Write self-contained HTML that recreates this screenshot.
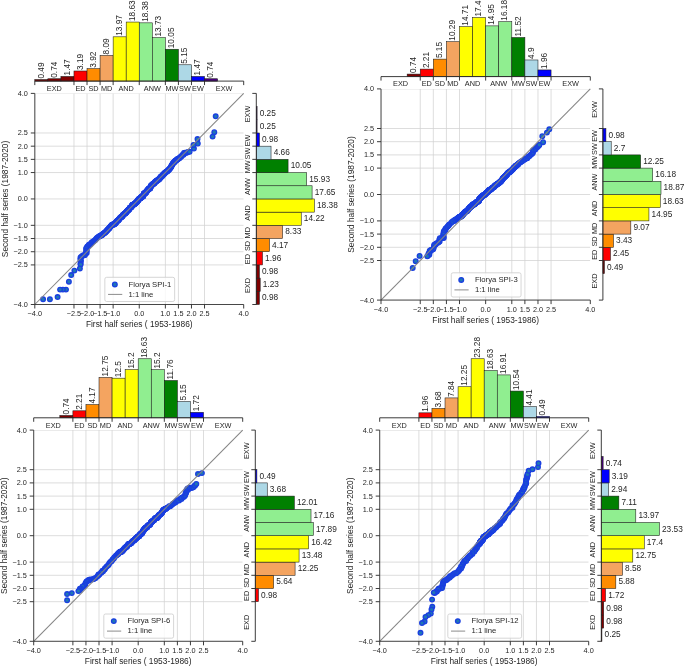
<!DOCTYPE html>
<html><head><meta charset="utf-8"><title>Florya SPI first half vs second half series</title>
<style>html,body{margin:0;padding:0;background:#fff}svg{display:block}</style></head>
<body>
<svg width="685" height="666" viewBox="0 0 685 666" font-family="Liberation Sans, Arial, sans-serif" fill="#262626">
<rect width="685" height="666" fill="#fff"/>
<g id="p0">
<clipPath id="c0"><rect x="34.8" y="93.4" width="208.9" height="211.1"/></clipPath>
<path d="M34.8 93.4V304.5M34.8 304.5H243.7M73.97 93.4V304.5M34.8 264.92H243.7M87.03 93.4V304.5M34.8 251.72H243.7M100.08 93.4V304.5M34.8 238.53H243.7M113.14 93.4V304.5M34.8 225.34H243.7M139.25 93.4V304.5M34.8 198.95H243.7M165.36 93.4V304.5M34.8 172.56H243.7M178.42 93.4V304.5M34.8 159.37H243.7M191.48 93.4V304.5M34.8 146.18H243.7M204.53 93.4V304.5M34.8 132.98H243.7M34.8 93.4H243.7" stroke="#d2d2d2" stroke-width="0.75" fill="none" clip-path="url(#c0)"/>
<g fill="#1f77b4" stroke="#1a3fe0" stroke-width="1.35"><circle cx="91.9" cy="242.3" r="2.3"/><circle cx="91.2" cy="243.12" r="2.3"/><circle cx="90.26" cy="244.26" r="2.3"/><circle cx="88.95" cy="244.61" r="2.3"/><circle cx="88.4" cy="245.8" r="2.3"/><circle cx="87.34" cy="246.53" r="2.3"/><circle cx="86.65" cy="247.8" r="2.3"/><circle cx="86.1" cy="248.8" r="2.3"/><circle cx="86.83" cy="250.48" r="2.3"/><circle cx="86.11" cy="251.32" r="2.3"/><circle cx="86.7" cy="252.9" r="2.3"/><circle cx="85.58" cy="253.67" r="2.3"/><circle cx="84.91" cy="255.08" r="2.3"/><circle cx="84.3" cy="255.2" r="2.3"/><circle cx="82.84" cy="255.45" r="2.3"/><circle cx="81.62" cy="256.51" r="2.3"/><circle cx="80.5" cy="257.5" r="2.3"/><circle cx="80.38" cy="259.35" r="2.3"/><circle cx="80.88" cy="260.39" r="2.3"/><circle cx="80.65" cy="261.6" r="2.3"/><circle cx="80.54" cy="263.52" r="2.3"/><circle cx="80.6" cy="264.5" r="2.3"/><circle cx="79.9" cy="268.4" r="2.3"/><circle cx="74.4" cy="270.6" r="2.3"/><circle cx="71.2" cy="275" r="2.3"/><circle cx="68.9" cy="281.7" r="2.3"/><circle cx="66" cy="289.6" r="2.3"/><circle cx="62.9" cy="289.6" r="2.3"/><circle cx="60.1" cy="289.6" r="2.3"/><circle cx="57.6" cy="297" r="2.3"/><circle cx="49.9" cy="299.3" r="2.3"/><circle cx="43.1" cy="299.3" r="2.3"/><circle cx="93.24" cy="241.45" r="2.3"/><circle cx="94.1" cy="240.85" r="2.3"/><circle cx="94.94" cy="240.2" r="2.3"/><circle cx="95.74" cy="239.48" r="2.3"/><circle cx="96.41" cy="238.51" r="2.3"/><circle cx="97.23" cy="237.84" r="2.3"/><circle cx="98.06" cy="237.18" r="2.3"/><circle cx="98.81" cy="236.56" r="2.3"/><circle cx="99.64" cy="236.29" r="2.3"/><circle cx="100.27" cy="236.01" r="2.3"/><circle cx="100.63" cy="235.6" r="2.3"/><circle cx="101.12" cy="235.46" r="2.3"/><circle cx="101.5" cy="235.07" r="2.3"/><circle cx="102.01" cy="234.96" r="2.3"/><circle cx="102.45" cy="234.7" r="2.3"/><circle cx="102.73" cy="234.12" r="2.3"/><circle cx="103.18" cy="233.89" r="2.3"/><circle cx="103.48" cy="233.35" r="2.3"/><circle cx="104" cy="233.25" r="2.3"/><circle cx="104.41" cy="232.94" r="2.3"/><circle cx="104.83" cy="232.65" r="2.3"/><circle cx="105.31" cy="232.48" r="2.3"/><circle cx="105.7" cy="232.12" r="2.3"/><circle cx="105.93" cy="231.44" r="2.3"/><circle cx="106.44" cy="231.34" r="2.3"/><circle cx="106.72" cy="230.77" r="2.3"/><circle cx="107.14" cy="230.46" r="2.3"/><circle cx="107.48" cy="230" r="2.3"/><circle cx="107.81" cy="229.53" r="2.3"/><circle cx="108.18" cy="229.13" r="2.3"/><circle cx="108.6" cy="228.84" r="2.3"/><circle cx="108.98" cy="228.47" r="2.3"/><circle cx="109.4" cy="228.17" r="2.3"/><circle cx="109.58" cy="227.4" r="2.3"/><circle cx="110" cy="227.1" r="2.3"/><circle cx="110.35" cy="226.67" r="2.3"/><circle cx="110.69" cy="226.21" r="2.3"/><circle cx="111.08" cy="225.86" r="2.3"/><circle cx="111.49" cy="225.54" r="2.3"/><circle cx="111.8" cy="225.02" r="2.3"/><circle cx="112.19" cy="224.66" r="2.3"/><circle cx="112.66" cy="224.56" r="2.3"/><circle cx="113.08" cy="224.57" r="2.3"/><circle cx="113.34" cy="224.44" r="2.3"/><circle cx="113.71" cy="224.51" r="2.3"/><circle cx="114" cy="224.44" r="2.3"/><circle cx="114.22" cy="224.18" r="2.3"/><circle cx="114.42" cy="223.91" r="2.3"/><circle cx="114.71" cy="223.8" r="2.3"/><circle cx="115" cy="223.7" r="2.3"/><circle cx="115.21" cy="223.42" r="2.3"/><circle cx="115.45" cy="223.23" r="2.3"/><circle cx="115.66" cy="222.96" r="2.3"/><circle cx="115.81" cy="222.58" r="2.3"/><circle cx="116.01" cy="222.29" r="2.3"/><circle cx="116.28" cy="222.14" r="2.3"/><circle cx="116.51" cy="221.91" r="2.3"/><circle cx="116.69" cy="221.58" r="2.3"/><circle cx="116.89" cy="221.3" r="2.3"/><circle cx="117.08" cy="220.99" r="2.3"/><circle cx="117.36" cy="220.86" r="2.3"/><circle cx="117.66" cy="220.8" r="2.3"/><circle cx="117.89" cy="220.55" r="2.3"/><circle cx="118.06" cy="220.21" r="2.3"/><circle cx="118.38" cy="220.17" r="2.3"/><circle cx="118.58" cy="219.89" r="2.3"/><circle cx="118.86" cy="219.75" r="2.3"/><circle cx="119.01" cy="219.37" r="2.3"/><circle cx="119.19" cy="219.04" r="2.3"/><circle cx="119.4" cy="218.79" r="2.3"/><circle cx="119.6" cy="218.5" r="2.3"/><circle cx="119.8" cy="218.22" r="2.3"/><circle cx="120.09" cy="218.1" r="2.3"/><circle cx="120.22" cy="217.68" r="2.3"/><circle cx="120.44" cy="217.44" r="2.3"/><circle cx="120.64" cy="217.16" r="2.3"/><circle cx="121.01" cy="217.19" r="2.3"/><circle cx="121.36" cy="217.22" r="2.3"/><circle cx="121.55" cy="216.92" r="2.3"/><circle cx="121.8" cy="216.72" r="2.3"/><circle cx="122.01" cy="216.45" r="2.3"/><circle cx="122.2" cy="216.15" r="2.3"/><circle cx="122.5" cy="216.08" r="2.3"/><circle cx="122.74" cy="215.87" r="2.3"/><circle cx="122.9" cy="215.49" r="2.3"/><circle cx="122.98" cy="214.98" r="2.3"/><circle cx="123.18" cy="214.68" r="2.3"/><circle cx="123.44" cy="214.52" r="2.3"/><circle cx="123.7" cy="214.36" r="2.3"/><circle cx="123.92" cy="214.11" r="2.3"/><circle cx="124.21" cy="214" r="2.3"/><circle cx="124.42" cy="213.73" r="2.3"/><circle cx="124.66" cy="213.54" r="2.3"/><circle cx="125.02" cy="213.56" r="2.3"/><circle cx="125.32" cy="213.48" r="2.3"/><circle cx="125.5" cy="213.15" r="2.3"/><circle cx="125.77" cy="213.02" r="2.3"/><circle cx="125.88" cy="212.55" r="2.3"/><circle cx="126.15" cy="212.4" r="2.3"/><circle cx="126.31" cy="212.12" r="2.3"/><circle cx="126.48" cy="211.95" r="2.3"/><circle cx="126.63" cy="211.71" r="2.3"/><circle cx="126.76" cy="211.45" r="2.3"/><circle cx="126.9" cy="211.21" r="2.3"/><circle cx="127.16" cy="211.22" r="2.3"/><circle cx="127.24" cy="210.86" r="2.3"/><circle cx="127.48" cy="210.81" r="2.3"/><circle cx="127.63" cy="210.6" r="2.3"/><circle cx="127.74" cy="210.3" r="2.3"/><circle cx="128.02" cy="210.35" r="2.3"/><circle cx="128.23" cy="210.24" r="2.3"/><circle cx="128.33" cy="209.91" r="2.3"/><circle cx="128.58" cy="209.89" r="2.3"/><circle cx="128.64" cy="209.51" r="2.3"/><circle cx="128.87" cy="209.45" r="2.3"/><circle cx="129.08" cy="209.35" r="2.3"/><circle cx="129.24" cy="209.14" r="2.3"/><circle cx="129.45" cy="209.05" r="2.3"/><circle cx="129.46" cy="208.55" r="2.3"/><circle cx="129.63" cy="208.37" r="2.3"/><circle cx="129.8" cy="208.18" r="2.3"/><circle cx="129.84" cy="207.74" r="2.3"/><circle cx="130.06" cy="207.66" r="2.3"/><circle cx="130.26" cy="207.55" r="2.3"/><circle cx="130.42" cy="207.35" r="2.3"/><circle cx="130.71" cy="207.41" r="2.3"/><circle cx="130.94" cy="207.35" r="2.3"/><circle cx="131.11" cy="207.18" r="2.3"/><circle cx="131.28" cy="207" r="2.3"/><circle cx="131.44" cy="206.78" r="2.3"/><circle cx="131.62" cy="206.64" r="2.3"/><circle cx="131.75" cy="206.37" r="2.3"/><circle cx="131.88" cy="206.12" r="2.3"/><circle cx="132.06" cy="205.94" r="2.3"/><circle cx="132.11" cy="205.54" r="2.3"/><circle cx="132.22" cy="205.24" r="2.3"/><circle cx="132.34" cy="204.96" r="2.3"/><circle cx="132.51" cy="204.78" r="2.3"/><circle cx="132.8" cy="204.83" r="2.3"/><circle cx="133.04" cy="204.8" r="2.3"/><circle cx="133.22" cy="204.64" r="2.3"/><circle cx="133.48" cy="204.64" r="2.3"/><circle cx="133.68" cy="204.52" r="2.3"/><circle cx="133.88" cy="204.39" r="2.3"/><circle cx="134.05" cy="204.22" r="2.3"/><circle cx="134.28" cy="204.17" r="2.3"/><circle cx="134.47" cy="204.02" r="2.3"/><circle cx="134.63" cy="203.82" r="2.3"/><circle cx="134.8" cy="203.64" r="2.3"/><circle cx="135.05" cy="203.62" r="2.3"/><circle cx="135.19" cy="203.38" r="2.3"/><circle cx="135.36" cy="203.2" r="2.3"/><circle cx="135.53" cy="203.03" r="2.3"/><circle cx="135.75" cy="202.94" r="2.3"/><circle cx="135.92" cy="202.76" r="2.3"/><circle cx="136.05" cy="202.51" r="2.3"/><circle cx="136.32" cy="202.53" r="2.3"/><circle cx="136.45" cy="202.26" r="2.3"/><circle cx="136.68" cy="202.2" r="2.3"/><circle cx="136.76" cy="201.86" r="2.3"/><circle cx="136.89" cy="201.59" r="2.3"/><circle cx="137.12" cy="201.53" r="2.3"/><circle cx="137.28" cy="201.32" r="2.3"/><circle cx="137.49" cy="201.22" r="2.3"/><circle cx="137.68" cy="201.08" r="2.3"/><circle cx="137.73" cy="200.67" r="2.3"/><circle cx="137.92" cy="200.52" r="2.3"/><circle cx="137.96" cy="200.08" r="2.3"/><circle cx="138.23" cy="200.1" r="2.3"/><circle cx="138.38" cy="199.89" r="2.3"/><circle cx="138.58" cy="199.77" r="2.3"/><circle cx="138.62" cy="199.33" r="2.3"/><circle cx="138.77" cy="199.11" r="2.3"/><circle cx="138.98" cy="199.02" r="2.3"/><circle cx="139.16" cy="198.86" r="2.3"/><circle cx="139.4" cy="198.8" r="2.3"/><circle cx="139.64" cy="198.74" r="2.3"/><circle cx="139.72" cy="198.37" r="2.3"/><circle cx="139.92" cy="198.25" r="2.3"/><circle cx="140.15" cy="198.17" r="2.3"/><circle cx="140.47" cy="198.28" r="2.3"/><circle cx="140.66" cy="198.13" r="2.3"/><circle cx="140.78" cy="197.84" r="2.3"/><circle cx="140.98" cy="197.7" r="2.3"/><circle cx="141.03" cy="197.28" r="2.3"/><circle cx="141.16" cy="197.02" r="2.3"/><circle cx="141.48" cy="197.11" r="2.3"/><circle cx="141.68" cy="196.99" r="2.3"/><circle cx="141.75" cy="196.59" r="2.3"/><circle cx="141.96" cy="196.49" r="2.3"/><circle cx="142.22" cy="196.46" r="2.3"/><circle cx="142.44" cy="196.38" r="2.3"/><circle cx="142.71" cy="196.39" r="2.3"/><circle cx="143" cy="196.45" r="2.3"/><circle cx="143.2" cy="196.3" r="2.3"/><circle cx="143.33" cy="196.04" r="2.3"/><circle cx="143.34" cy="195.52" r="2.3"/><circle cx="143.45" cy="195.21" r="2.3"/><circle cx="143.58" cy="194.94" r="2.3"/><circle cx="143.62" cy="194.48" r="2.3"/><circle cx="143.75" cy="194.22" r="2.3"/><circle cx="143.79" cy="193.77" r="2.3"/><circle cx="143.88" cy="193.41" r="2.3"/><circle cx="144.18" cy="193.48" r="2.3"/><circle cx="144.3" cy="193.19" r="2.3"/><circle cx="144.59" cy="193.24" r="2.3"/><circle cx="144.86" cy="193.24" r="2.3"/><circle cx="145.01" cy="193.01" r="2.3"/><circle cx="145.27" cy="193.01" r="2.3"/><circle cx="145.47" cy="192.88" r="2.3"/><circle cx="145.76" cy="192.92" r="2.3"/><circle cx="145.89" cy="192.66" r="2.3"/><circle cx="145.97" cy="192.28" r="2.3"/><circle cx="146.12" cy="192.05" r="2.3"/><circle cx="146.24" cy="191.75" r="2.3"/><circle cx="146.4" cy="191.55" r="2.3"/><circle cx="146.54" cy="191.3" r="2.3"/><circle cx="146.75" cy="191.19" r="2.3"/><circle cx="146.94" cy="191.02" r="2.3"/><circle cx="147.06" cy="190.75" r="2.3"/><circle cx="147.31" cy="190.71" r="2.3"/><circle cx="147.49" cy="190.54" r="2.3"/><circle cx="147.57" cy="190.16" r="2.3"/><circle cx="147.8" cy="190.1" r="2.3"/><circle cx="147.89" cy="189.75" r="2.3"/><circle cx="148.13" cy="189.68" r="2.3"/><circle cx="148.22" cy="189.33" r="2.3"/><circle cx="148.4" cy="189.16" r="2.3"/><circle cx="148.49" cy="188.82" r="2.3"/><circle cx="148.75" cy="188.81" r="2.3"/><circle cx="149" cy="188.77" r="2.3"/><circle cx="149.26" cy="188.75" r="2.3"/><circle cx="149.43" cy="188.56" r="2.3"/><circle cx="149.65" cy="188.47" r="2.3"/><circle cx="149.87" cy="188.39" r="2.3"/><circle cx="150.14" cy="188.4" r="2.3"/><circle cx="150.22" cy="188.03" r="2.3"/><circle cx="150.41" cy="187.87" r="2.3"/><circle cx="150.44" cy="187.4" r="2.3"/><circle cx="150.44" cy="186.87" r="2.3"/><circle cx="150.54" cy="186.54" r="2.3"/><circle cx="150.74" cy="186.4" r="2.3"/><circle cx="150.84" cy="186.07" r="2.3"/><circle cx="151.02" cy="185.91" r="2.3"/><circle cx="151.15" cy="185.63" r="2.3"/><circle cx="151.33" cy="185.46" r="2.3"/><circle cx="151.48" cy="185.23" r="2.3"/><circle cx="151.68" cy="185.07" r="2.3"/><circle cx="151.98" cy="185.12" r="2.3"/><circle cx="152.19" cy="185" r="2.3"/><circle cx="152.3" cy="184.61" r="2.3"/><circle cx="152.59" cy="184.51" r="2.3"/><circle cx="152.77" cy="184.2" r="2.3"/><circle cx="152.92" cy="183.84" r="2.3"/><circle cx="153.29" cy="183.9" r="2.3"/><circle cx="153.59" cy="183.83" r="2.3"/><circle cx="153.87" cy="183.73" r="2.3"/><circle cx="153.99" cy="183.3" r="2.3"/><circle cx="154.27" cy="183.18" r="2.3"/><circle cx="154.57" cy="183.11" r="2.3"/><circle cx="154.69" cy="182.68" r="2.3"/><circle cx="154.92" cy="182.47" r="2.3"/><circle cx="155.09" cy="182.16" r="2.3"/><circle cx="155.25" cy="181.79" r="2.3"/><circle cx="155.39" cy="181.41" r="2.3"/><circle cx="155.7" cy="181.37" r="2.3"/><circle cx="156" cy="181.28" r="2.3"/><circle cx="156.27" cy="181.17" r="2.3"/><circle cx="156.56" cy="181.07" r="2.3"/><circle cx="156.84" cy="180.97" r="2.3"/><circle cx="156.95" cy="180.51" r="2.3"/><circle cx="157.25" cy="180.45" r="2.3"/><circle cx="157.53" cy="180.34" r="2.3"/><circle cx="157.84" cy="180.29" r="2.3"/><circle cx="158.02" cy="179.97" r="2.3"/><circle cx="158.28" cy="179.82" r="2.3"/><circle cx="158.39" cy="179.39" r="2.3"/><circle cx="158.6" cy="179.12" r="2.3"/><circle cx="158.99" cy="179.25" r="2.3"/><circle cx="159.31" cy="179.21" r="2.3"/><circle cx="159.46" cy="178.84" r="2.3"/><circle cx="159.64" cy="178.52" r="2.3"/><circle cx="159.84" cy="178.27" r="2.3"/><circle cx="160.06" cy="178.03" r="2.3"/><circle cx="160.2" cy="177.63" r="2.3"/><circle cx="160.51" cy="177.55" r="2.3"/><circle cx="160.62" cy="177.06" r="2.3"/><circle cx="160.8" cy="176.71" r="2.3"/><circle cx="161.14" cy="176.68" r="2.3"/><circle cx="161.54" cy="176.78" r="2.3"/><circle cx="161.71" cy="176.41" r="2.3"/><circle cx="161.98" cy="176.25" r="2.3"/><circle cx="162.04" cy="175.67" r="2.3"/><circle cx="162.33" cy="175.54" r="2.3"/><circle cx="162.56" cy="175.29" r="2.3"/><circle cx="162.85" cy="175.17" r="2.3"/><circle cx="163.06" cy="174.88" r="2.3"/><circle cx="163.22" cy="174.49" r="2.3"/><circle cx="163.44" cy="174.22" r="2.3"/><circle cx="163.75" cy="174.14" r="2.3"/><circle cx="163.98" cy="173.89" r="2.3"/><circle cx="164.27" cy="173.76" r="2.3"/><circle cx="164.43" cy="173.37" r="2.3"/><circle cx="164.64" cy="173.09" r="2.3"/><circle cx="164.94" cy="172.98" r="2.3"/><circle cx="165.15" cy="172.71" r="2.3"/><circle cx="165.5" cy="172.6" r="2.3"/><circle cx="165.73" cy="172.16" r="2.3"/><circle cx="166.03" cy="171.87" r="2.3"/><circle cx="166.34" cy="171.62" r="2.3"/><circle cx="166.75" cy="171.54" r="2.3"/><circle cx="167.15" cy="171.39" r="2.3"/><circle cx="167.46" cy="171.01" r="2.3"/><circle cx="167.84" cy="170.75" r="2.3"/><circle cx="168.14" cy="170.34" r="2.3"/><circle cx="168.44" cy="169.93" r="2.3"/><circle cx="168.8" cy="169.64" r="2.3"/><circle cx="169.21" cy="169.44" r="2.3"/><circle cx="169.44" cy="168.91" r="2.3"/><circle cx="169.8" cy="168.61" r="2.3"/><circle cx="170.07" cy="168.14" r="2.3"/><circle cx="170.43" cy="167.85" r="2.3"/><circle cx="170.74" cy="167.45" r="2.3"/><circle cx="171.01" cy="167" r="2.3"/><circle cx="171.21" cy="166.38" r="2.3"/><circle cx="171.48" cy="165.91" r="2.3"/><circle cx="171.74" cy="165.42" r="2.3"/><circle cx="172.03" cy="165" r="2.3"/><circle cx="172.33" cy="164.58" r="2.3"/><circle cx="172.6" cy="164.12" r="2.3"/><circle cx="172.85" cy="163.61" r="2.3"/><circle cx="173.09" cy="163.09" r="2.3"/><circle cx="173.49" cy="162.86" r="2.3"/><circle cx="173.84" cy="162.56" r="2.3"/><circle cx="174.18" cy="162.24" r="2.3"/><circle cx="174.49" cy="161.84" r="2.3"/><circle cx="174.89" cy="161.63" r="2.3"/><circle cx="175.07" cy="160.98" r="2.3"/><circle cx="175.43" cy="160.69" r="2.3"/><circle cx="175.81" cy="160.44" r="2.3"/><circle cx="176.2" cy="160.21" r="2.3"/><circle cx="176.6" cy="160.01" r="2.3"/><circle cx="176.98" cy="159.77" r="2.3"/><circle cx="177.33" cy="159.45" r="2.3"/><circle cx="177.6" cy="158.98" r="2.3"/><circle cx="177.94" cy="158.65" r="2.3"/><circle cx="178.43" cy="158.62" r="2.3"/><circle cx="178.99" cy="158.39" r="2.3"/><circle cx="179.56" cy="157.88" r="2.3"/><circle cx="180.14" cy="157.37" r="2.3"/><circle cx="180.7" cy="156.83" r="2.3"/><circle cx="181.38" cy="156.52" r="2.3"/><circle cx="182.3" cy="155" r="2.3"/><circle cx="183.54" cy="154.7" r="2.3"/><circle cx="183.98" cy="152.9" r="2.3"/><circle cx="185" cy="152.8" r="2.3"/><circle cx="186.34" cy="152.81" r="2.3"/><circle cx="186.98" cy="152.61" r="2.3"/><circle cx="187.97" cy="152.03" r="2.3"/><circle cx="189.6" cy="151.8" r="2.3"/><circle cx="193.9" cy="148.5" r="2.3"/><circle cx="193.5" cy="144.9" r="2.3"/><circle cx="197.8" cy="143.5" r="2.3"/><circle cx="197.5" cy="139" r="2.3"/><circle cx="212.6" cy="136.6" r="2.3"/><circle cx="214.3" cy="132.2" r="2.3"/><circle cx="215.7" cy="116.3" r="2.3"/></g>
<path d="M34.8 304.5L243.7 93.4" stroke="#858585" stroke-width="1.05" fill="none"/>
<path d="M34.8 93.4V304.5H243.7" stroke="#333" stroke-width="0.9" fill="none"/>
<path d="M34.8 304.5v4.0M34.8 304.5h-4.0M73.97 304.5v4.0M34.8 264.92h-4.0M87.03 304.5v4.0M34.8 251.72h-4.0M100.08 304.5v4.0M34.8 238.53h-4.0M113.14 304.5v4.0M34.8 225.34h-4.0M139.25 304.5v4.0M34.8 198.95h-4.0M165.36 304.5v4.0M34.8 172.56h-4.0M178.42 304.5v4.0M34.8 159.37h-4.0M191.48 304.5v4.0M34.8 146.18h-4.0M204.53 304.5v4.0M34.8 132.98h-4.0M243.7 304.5v4.0M34.8 93.4h-4.0" stroke="#262626" stroke-width="0.9" fill="none"/>
<g font-size="7.3">
<text x="34.8" y="316.4" text-anchor="middle">−4.0</text>
<text x="27.9" y="307" text-anchor="end">−4.0</text>
<text x="73.97" y="316.4" text-anchor="middle">−2.5</text>
<text x="27.9" y="267.42" text-anchor="end">−2.5</text>
<text x="87.03" y="316.4" text-anchor="middle">−2.0</text>
<text x="27.9" y="254.22" text-anchor="end">−2.0</text>
<text x="100.08" y="316.4" text-anchor="middle">−1.5</text>
<text x="27.9" y="241.03" text-anchor="end">−1.5</text>
<text x="113.14" y="316.4" text-anchor="middle">−1.0</text>
<text x="27.9" y="227.84" text-anchor="end">−1.0</text>
<text x="139.25" y="316.4" text-anchor="middle">0.0</text>
<text x="27.9" y="201.45" text-anchor="end">0.0</text>
<text x="165.36" y="316.4" text-anchor="middle">1.0</text>
<text x="27.9" y="175.06" text-anchor="end">1.0</text>
<text x="178.42" y="316.4" text-anchor="middle">1.5</text>
<text x="27.9" y="161.87" text-anchor="end">1.5</text>
<text x="191.48" y="316.4" text-anchor="middle">2.0</text>
<text x="27.9" y="148.68" text-anchor="end">2.0</text>
<text x="204.53" y="316.4" text-anchor="middle">2.5</text>
<text x="27.9" y="135.48" text-anchor="end">2.5</text>
<text x="243.7" y="316.4" text-anchor="middle">4.0</text>
<text x="27.9" y="95.9" text-anchor="end">4.0</text>
</g>
<text x="139.25" y="327.3" font-size="8.35" text-anchor="middle">First half series ( 1953-1986)</text>
<text transform="translate(7.6 198.95) rotate(-90)" font-size="8.35" text-anchor="middle">Second half series (1987-2020)</text>
<rect x="104.85" y="277.3" width="69.8" height="24.2" rx="1.8" fill="#fff" fill-opacity="0.8" stroke="#ccc" stroke-width="0.8"/>
<circle cx="114.85" cy="284.4" r="2.3" fill="#1f77b4" stroke="#1a3fe0" stroke-width="1.35"/>
<path d="M108.05 294.4h14.2" stroke="#8c8c8c" stroke-width="1"/>
<text x="128.55" y="286.6" font-size="7.7">Florya SPI-1</text>
<text x="128.55" y="296.7" font-size="7.7">1:1 line</text>
<g stroke="#1a1a1a" stroke-width="0.55"><rect x="34.8" y="79.55" width="13.06" height="1.55" fill="#800000"/><rect x="47.86" y="78.75" width="13.06" height="2.35" fill="#800000"/><rect x="60.91" y="76.44" width="13.06" height="4.66" fill="#800000"/><rect x="73.97" y="70.99" width="13.06" height="10.11" fill="#ff0000"/><rect x="87.03" y="68.68" width="13.06" height="12.42" fill="#ff8c00"/><rect x="100.08" y="55.46" width="13.06" height="25.64" fill="#f4a460"/><rect x="113.14" y="36.82" width="13.06" height="44.28" fill="#ffff00"/><rect x="126.19" y="22.05" width="13.06" height="59.05" fill="#ffff00"/><rect x="139.25" y="22.84" width="13.06" height="58.26" fill="#90ee90"/><rect x="152.31" y="37.58" width="13.06" height="43.52" fill="#90ee90"/><rect x="165.36" y="49.25" width="13.06" height="31.85" fill="#008000"/><rect x="178.42" y="64.78" width="13.06" height="16.32" fill="#add8e6"/><rect x="191.48" y="76.44" width="13.06" height="4.66" fill="#0000ff"/><rect x="204.53" y="78.75" width="13.06" height="2.35" fill="#4b0082"/></g>
<g font-size="8.3"><text transform="translate(43.53 78.55) rotate(-90)">0.49</text><text transform="translate(56.58 77.75) rotate(-90)">0.74</text><text transform="translate(69.64 75.44) rotate(-90)">1.47</text><text transform="translate(82.7 69.99) rotate(-90)">3.19</text><text transform="translate(95.75 67.68) rotate(-90)">3.92</text><text transform="translate(108.81 54.46) rotate(-90)">8.09</text><text transform="translate(121.87 35.82) rotate(-90)">13.97</text><text transform="translate(134.92 21.05) rotate(-90)">18.63</text><text transform="translate(147.98 21.84) rotate(-90)">18.38</text><text transform="translate(161.03 36.58) rotate(-90)">13.73</text><text transform="translate(174.09 48.25) rotate(-90)">10.05</text><text transform="translate(187.15 63.78) rotate(-90)">5.15</text><text transform="translate(200.2 75.44) rotate(-90)">1.47</text><text transform="translate(213.26 77.75) rotate(-90)">0.74</text></g>
<path d="M34.8 81.1H243.7M34.8 81.1v4.0M73.97 81.1v4.0M87.03 81.1v4.0M100.08 81.1v4.0M113.14 81.1v4.0M139.25 81.1v4.0M165.36 81.1v4.0M178.42 81.1v4.0M191.48 81.1v4.0M204.53 81.1v4.0M243.7 81.1v4.0" stroke="#262626" stroke-width="0.9" fill="none"/>
<g font-size="7.3" text-anchor="middle">
<text x="54.38" y="90.9">EXD</text>
<text x="80.5" y="90.9">ED</text>
<text x="93.55" y="90.9">SD</text>
<text x="106.61" y="90.9">MD</text>
<text x="126.19" y="90.9">AND</text>
<text x="152.31" y="90.9">ANW</text>
<text x="171.89" y="90.9">MW</text>
<text x="184.95" y="90.9">SW</text>
<text x="198" y="90.9">EW</text>
<text x="224.12" y="90.9">EXW</text>
</g>
<g stroke="#1a1a1a" stroke-width="0.55"><rect x="256.3" y="291.31" width="3.1" height="13.19" fill="#800000"/><rect x="256.3" y="278.11" width="3.89" height="13.19" fill="#800000"/><rect x="256.3" y="264.92" width="3.1" height="13.19" fill="#800000"/><rect x="256.3" y="251.72" width="6.2" height="13.19" fill="#ff0000"/><rect x="256.3" y="238.53" width="13.18" height="13.19" fill="#ff8c00"/><rect x="256.3" y="225.34" width="26.33" height="13.19" fill="#f4a460"/><rect x="256.3" y="212.14" width="44.95" height="13.19" fill="#ffff00"/><rect x="256.3" y="198.95" width="58.1" height="13.19" fill="#ffff00"/><rect x="256.3" y="185.76" width="55.79" height="13.19" fill="#90ee90"/><rect x="256.3" y="172.56" width="50.35" height="13.19" fill="#90ee90"/><rect x="256.3" y="159.37" width="31.77" height="13.19" fill="#008000"/><rect x="256.3" y="146.18" width="14.73" height="13.19" fill="#add8e6"/><rect x="256.3" y="132.98" width="3.1" height="13.19" fill="#0000ff"/><rect x="256.3" y="119.79" width="0.79" height="13.19" fill="#4b0082"/><rect x="256.3" y="106.59" width="0.79" height="13.19" fill="#4b0082"/></g>
<g font-size="8.3"><text x="262" y="300.3">0.98</text><text x="262.79" y="287.11">1.23</text><text x="262" y="273.92">0.98</text><text x="265.1" y="260.72">1.96</text><text x="272.08" y="247.53">4.17</text><text x="285.23" y="234.33">8.33</text><text x="303.85" y="221.14">14.22</text><text x="317" y="207.95">18.38</text><text x="314.69" y="194.75">17.65</text><text x="309.25" y="181.56">15.93</text><text x="290.67" y="168.37">10.05</text><text x="273.63" y="155.17">4.66</text><text x="262" y="141.98">0.98</text><text x="259.69" y="128.78">0.25</text><text x="259.69" y="115.59">0.25</text></g>
<path d="M256.3 93.4V304.5M256.3 304.5h-4.0M256.3 264.92h-4.0M256.3 251.72h-4.0M256.3 238.53h-4.0M256.3 225.34h-4.0M256.3 198.95h-4.0M256.3 172.56h-4.0M256.3 159.37h-4.0M256.3 146.18h-4.0M256.3 132.98h-4.0M256.3 93.4h-4.0" stroke="#262626" stroke-width="0.9" fill="none"/>
<g font-size="7.3" text-anchor="middle">
<text transform="translate(250.3 285.51) rotate(-90)">EXD</text>
<text transform="translate(250.3 259.12) rotate(-90)">ED</text>
<text transform="translate(250.3 245.93) rotate(-90)">SD</text>
<text transform="translate(250.3 232.73) rotate(-90)">MD</text>
<text transform="translate(250.3 212.94) rotate(-90)">AND</text>
<text transform="translate(250.3 186.56) rotate(-90)">ANW</text>
<text transform="translate(250.3 166.77) rotate(-90)">MW</text>
<text transform="translate(250.3 153.57) rotate(-90)">SW</text>
<text transform="translate(250.3 140.38) rotate(-90)">EW</text>
<text transform="translate(250.3 113.99) rotate(-90)">EXW</text>
</g>
</g>
<g id="p1">
<clipPath id="c1"><rect x="381" y="88.9" width="209.3" height="211.2"/></clipPath>
<path d="M381 88.9V300.1M381 300.1H590.3M420.24 88.9V300.1M381 260.5H590.3M433.32 88.9V300.1M381 247.3H590.3M446.41 88.9V300.1M381 234.1H590.3M459.49 88.9V300.1M381 220.9H590.3M485.65 88.9V300.1M381 194.5H590.3M511.81 88.9V300.1M381 168.1H590.3M524.89 88.9V300.1M381 154.9H590.3M537.98 88.9V300.1M381 141.7H590.3M551.06 88.9V300.1M381 128.5H590.3M381 88.9H590.3" stroke="#d2d2d2" stroke-width="0.75" fill="none" clip-path="url(#c1)"/>
<g fill="#1f77b4" stroke="#1a3fe0" stroke-width="1.35"><circle cx="456.2" cy="219.2" r="2.3"/><circle cx="454.96" cy="219.84" r="2.3"/><circle cx="454.31" cy="221.03" r="2.3"/><circle cx="453.18" cy="220.94" r="2.3"/><circle cx="451.89" cy="221.88" r="2.3"/><circle cx="451" cy="223.1" r="2.3"/><circle cx="449.31" cy="224.53" r="2.3"/><circle cx="448.79" cy="225.26" r="2.3"/><circle cx="448.1" cy="225.85" r="2.3"/><circle cx="447.74" cy="226.58" r="2.3"/><circle cx="446.4" cy="227.7" r="2.3"/><circle cx="445.46" cy="228.6" r="2.3"/><circle cx="445.5" cy="229.89" r="2.3"/><circle cx="444.32" cy="230.69" r="2.3"/><circle cx="443.7" cy="231.7" r="2.3"/><circle cx="443.92" cy="232.95" r="2.3"/><circle cx="443.2" cy="234.21" r="2.3"/><circle cx="443.53" cy="234.99" r="2.3"/><circle cx="443.62" cy="236.99" r="2.3"/><circle cx="443.7" cy="238" r="2.3"/><circle cx="442.62" cy="238.05" r="2.3"/><circle cx="441.68" cy="237.76" r="2.3"/><circle cx="439.8" cy="238.3" r="2.3"/><circle cx="439.27" cy="239.94" r="2.3"/><circle cx="439.65" cy="241.43" r="2.3"/><circle cx="438.5" cy="242.2" r="2.3"/><circle cx="437.82" cy="242.63" r="2.3"/><circle cx="436.13" cy="243.54" r="2.3"/><circle cx="435.71" cy="244.59" r="2.3"/><circle cx="434.3" cy="244.8" r="2.3"/><circle cx="434.01" cy="245.94" r="2.3"/><circle cx="433.72" cy="247.68" r="2.3"/><circle cx="433.2" cy="249.2" r="2.3"/><circle cx="431.72" cy="250.05" r="2.3"/><circle cx="430.85" cy="249.91" r="2.3"/><circle cx="429.7" cy="250.7" r="2.3"/><circle cx="429.81" cy="252.15" r="2.3"/><circle cx="428.63" cy="253.35" r="2.3"/><circle cx="429.3" cy="254.7" r="2.3"/><circle cx="427.8" cy="255.81" r="2.3"/><circle cx="427.3" cy="256.3" r="2.3"/><circle cx="419.6" cy="255.9" r="2.3"/><circle cx="415.7" cy="261.2" r="2.3"/><circle cx="412.7" cy="267.9" r="2.3"/><circle cx="457.2" cy="218.69" r="2.3"/><circle cx="457.5" cy="218.48" r="2.3"/><circle cx="457.78" cy="218.22" r="2.3"/><circle cx="458.08" cy="218" r="2.3"/><circle cx="458.31" cy="217.63" r="2.3"/><circle cx="458.68" cy="217.56" r="2.3"/><circle cx="458.99" cy="217.36" r="2.3"/><circle cx="459.27" cy="217.09" r="2.3"/><circle cx="459.51" cy="216.84" r="2.3"/><circle cx="459.86" cy="216.9" r="2.3"/><circle cx="460.24" cy="217.03" r="2.3"/><circle cx="460.45" cy="216.82" r="2.3"/><circle cx="460.64" cy="216.56" r="2.3"/><circle cx="460.96" cy="216.56" r="2.3"/><circle cx="461.08" cy="216.16" r="2.3"/><circle cx="461.4" cy="216.15" r="2.3"/><circle cx="461.57" cy="215.87" r="2.3"/><circle cx="461.88" cy="215.84" r="2.3"/><circle cx="462.09" cy="215.63" r="2.3"/><circle cx="462.17" cy="215.14" r="2.3"/><circle cx="462.33" cy="214.83" r="2.3"/><circle cx="462.61" cy="214.75" r="2.3"/><circle cx="462.79" cy="214.47" r="2.3"/><circle cx="463.08" cy="214.42" r="2.3"/><circle cx="463.29" cy="214.19" r="2.3"/><circle cx="463.49" cy="213.94" r="2.3"/><circle cx="463.64" cy="213.62" r="2.3"/><circle cx="463.84" cy="213.37" r="2.3"/><circle cx="464.05" cy="213.16" r="2.3"/><circle cx="464.32" cy="213.05" r="2.3"/><circle cx="464.4" cy="212.58" r="2.3"/><circle cx="464.64" cy="212.42" r="2.3"/><circle cx="464.86" cy="212.23" r="2.3"/><circle cx="465.05" cy="211.97" r="2.3"/><circle cx="465.33" cy="211.88" r="2.3"/><circle cx="465.57" cy="211.72" r="2.3"/><circle cx="465.8" cy="211.54" r="2.3"/><circle cx="466.02" cy="211.34" r="2.3"/><circle cx="466.27" cy="211.22" r="2.3"/><circle cx="466.61" cy="211.24" r="2.3"/><circle cx="466.87" cy="211.13" r="2.3"/><circle cx="467.09" cy="210.93" r="2.3"/><circle cx="467.3" cy="210.71" r="2.3"/><circle cx="467.52" cy="210.52" r="2.3"/><circle cx="467.7" cy="210.23" r="2.3"/><circle cx="467.88" cy="209.96" r="2.3"/><circle cx="468.13" cy="209.81" r="2.3"/><circle cx="468.28" cy="209.48" r="2.3"/><circle cx="468.44" cy="209.16" r="2.3"/><circle cx="468.53" cy="208.7" r="2.3"/><circle cx="468.8" cy="208.6" r="2.3"/><circle cx="469.01" cy="208.38" r="2.3"/><circle cx="469.26" cy="208.25" r="2.3"/><circle cx="469.44" cy="207.98" r="2.3"/><circle cx="469.62" cy="207.69" r="2.3"/><circle cx="469.76" cy="207.32" r="2.3"/><circle cx="470.08" cy="207.33" r="2.3"/><circle cx="470.31" cy="207.17" r="2.3"/><circle cx="470.57" cy="207.1" r="2.3"/><circle cx="470.68" cy="206.72" r="2.3"/><circle cx="470.88" cy="206.53" r="2.3"/><circle cx="471.11" cy="206.39" r="2.3"/><circle cx="471.45" cy="206.47" r="2.3"/><circle cx="471.61" cy="206.2" r="2.3"/><circle cx="471.82" cy="206.02" r="2.3"/><circle cx="471.94" cy="205.67" r="2.3"/><circle cx="472.11" cy="205.41" r="2.3"/><circle cx="472.25" cy="205.1" r="2.3"/><circle cx="472.5" cy="205.04" r="2.3"/><circle cx="472.75" cy="205.01" r="2.3"/><circle cx="472.83" cy="204.63" r="2.3"/><circle cx="472.94" cy="204.33" r="2.3"/><circle cx="473.25" cy="204.4" r="2.3"/><circle cx="473.53" cy="204.43" r="2.3"/><circle cx="473.7" cy="204.25" r="2.3"/><circle cx="474.03" cy="204.38" r="2.3"/><circle cx="474.32" cy="204.44" r="2.3"/><circle cx="474.47" cy="204.19" r="2.3"/><circle cx="474.66" cy="204.05" r="2.3"/><circle cx="474.87" cy="203.94" r="2.3"/><circle cx="475.09" cy="203.84" r="2.3"/><circle cx="475.16" cy="203.46" r="2.3"/><circle cx="475.34" cy="203.28" r="2.3"/><circle cx="475.51" cy="203.1" r="2.3"/><circle cx="475.64" cy="202.82" r="2.3"/><circle cx="475.83" cy="202.67" r="2.3"/><circle cx="476.08" cy="202.64" r="2.3"/><circle cx="476.22" cy="202.38" r="2.3"/><circle cx="476.51" cy="202.44" r="2.3"/><circle cx="476.56" cy="202.01" r="2.3"/><circle cx="476.83" cy="202.02" r="2.3"/><circle cx="476.99" cy="201.82" r="2.3"/><circle cx="477.24" cy="201.77" r="2.3"/><circle cx="477.41" cy="201.58" r="2.3"/><circle cx="477.74" cy="201.71" r="2.3"/><circle cx="477.91" cy="201.52" r="2.3"/><circle cx="478.13" cy="201.43" r="2.3"/><circle cx="478.26" cy="201.17" r="2.3"/><circle cx="478.62" cy="201.35" r="2.3"/><circle cx="478.68" cy="200.93" r="2.3"/><circle cx="478.93" cy="200.89" r="2.3"/><circle cx="479.05" cy="200.59" r="2.3"/><circle cx="479.08" cy="200.11" r="2.3"/><circle cx="479.02" cy="199.45" r="2.3"/><circle cx="479.19" cy="199.25" r="2.3"/><circle cx="479.35" cy="199.02" r="2.3"/><circle cx="479.52" cy="198.82" r="2.3"/><circle cx="479.67" cy="198.57" r="2.3"/><circle cx="479.95" cy="198.6" r="2.3"/><circle cx="480.05" cy="198.25" r="2.3"/><circle cx="480.16" cy="197.93" r="2.3"/><circle cx="480.48" cy="198.03" r="2.3"/><circle cx="480.77" cy="198.07" r="2.3"/><circle cx="480.94" cy="197.87" r="2.3"/><circle cx="481.02" cy="197.49" r="2.3"/><circle cx="481.14" cy="197.18" r="2.3"/><circle cx="481.37" cy="197.1" r="2.3"/><circle cx="481.52" cy="196.86" r="2.3"/><circle cx="481.68" cy="196.63" r="2.3"/><circle cx="481.93" cy="196.59" r="2.3"/><circle cx="482.12" cy="196.44" r="2.3"/><circle cx="482.23" cy="196.1" r="2.3"/><circle cx="482.39" cy="195.88" r="2.3"/><circle cx="482.59" cy="195.75" r="2.3"/><circle cx="482.84" cy="195.7" r="2.3"/><circle cx="482.99" cy="195.45" r="2.3"/><circle cx="483.2" cy="195.33" r="2.3"/><circle cx="483.46" cy="195.31" r="2.3"/><circle cx="483.69" cy="195.23" r="2.3"/><circle cx="483.85" cy="195.01" r="2.3"/><circle cx="484.07" cy="194.91" r="2.3"/><circle cx="484.3" cy="194.83" r="2.3"/><circle cx="484.61" cy="194.91" r="2.3"/><circle cx="484.83" cy="194.79" r="2.3"/><circle cx="484.93" cy="194.46" r="2.3"/><circle cx="485.13" cy="194.32" r="2.3"/><circle cx="485.27" cy="194.05" r="2.3"/><circle cx="485.47" cy="193.91" r="2.3"/><circle cx="485.65" cy="193.74" r="2.3"/><circle cx="485.86" cy="193.6" r="2.3"/><circle cx="486" cy="193.27" r="2.3"/><circle cx="486.18" cy="193.04" r="2.3"/><circle cx="486.44" cy="192.95" r="2.3"/><circle cx="486.61" cy="192.7" r="2.3"/><circle cx="486.9" cy="192.68" r="2.3"/><circle cx="487.14" cy="192.54" r="2.3"/><circle cx="487.32" cy="192.3" r="2.3"/><circle cx="487.43" cy="191.93" r="2.3"/><circle cx="487.68" cy="191.83" r="2.3"/><circle cx="487.92" cy="191.71" r="2.3"/><circle cx="488.09" cy="191.45" r="2.3"/><circle cx="488.27" cy="191.2" r="2.3"/><circle cx="488.5" cy="191.06" r="2.3"/><circle cx="488.58" cy="190.63" r="2.3"/><circle cx="488.72" cy="190.31" r="2.3"/><circle cx="488.94" cy="190.15" r="2.3"/><circle cx="489.28" cy="190.22" r="2.3"/><circle cx="489.46" cy="189.98" r="2.3"/><circle cx="489.74" cy="189.94" r="2.3"/><circle cx="489.96" cy="189.79" r="2.3"/><circle cx="490.16" cy="189.58" r="2.3"/><circle cx="490.39" cy="189.44" r="2.3"/><circle cx="490.75" cy="189.57" r="2.3"/><circle cx="491.03" cy="189.53" r="2.3"/><circle cx="491.16" cy="189.17" r="2.3"/><circle cx="491.29" cy="188.84" r="2.3"/><circle cx="491.56" cy="188.79" r="2.3"/><circle cx="491.69" cy="188.44" r="2.3"/><circle cx="491.9" cy="188.26" r="2.3"/><circle cx="492.12" cy="188.11" r="2.3"/><circle cx="492.32" cy="187.9" r="2.3"/><circle cx="492.49" cy="187.63" r="2.3"/><circle cx="492.78" cy="187.61" r="2.3"/><circle cx="493.05" cy="187.55" r="2.3"/><circle cx="493.37" cy="187.6" r="2.3"/><circle cx="493.46" cy="187.18" r="2.3"/><circle cx="493.69" cy="187.05" r="2.3"/><circle cx="493.94" cy="186.94" r="2.3"/><circle cx="494.15" cy="186.75" r="2.3"/><circle cx="494.39" cy="186.63" r="2.3"/><circle cx="494.59" cy="186.44" r="2.3"/><circle cx="494.65" cy="185.95" r="2.3"/><circle cx="494.86" cy="185.78" r="2.3"/><circle cx="494.96" cy="185.39" r="2.3"/><circle cx="495.26" cy="185.38" r="2.3"/><circle cx="495.57" cy="185.39" r="2.3"/><circle cx="495.8" cy="185.26" r="2.3"/><circle cx="495.94" cy="184.93" r="2.3"/><circle cx="496.19" cy="184.84" r="2.3"/><circle cx="496.39" cy="184.63" r="2.3"/><circle cx="496.59" cy="184.44" r="2.3"/><circle cx="496.81" cy="184.27" r="2.3"/><circle cx="497.11" cy="184.27" r="2.3"/><circle cx="497.32" cy="184.1" r="2.3"/><circle cx="497.51" cy="183.87" r="2.3"/><circle cx="497.72" cy="183.68" r="2.3"/><circle cx="498.01" cy="183.67" r="2.3"/><circle cx="498.23" cy="183.49" r="2.3"/><circle cx="498.41" cy="183.25" r="2.3"/><circle cx="498.66" cy="183.15" r="2.3"/><circle cx="498.9" cy="183.03" r="2.3"/><circle cx="499.05" cy="182.75" r="2.3"/><circle cx="499.32" cy="182.73" r="2.3"/><circle cx="499.52" cy="182.55" r="2.3"/><circle cx="499.69" cy="182.32" r="2.3"/><circle cx="499.86" cy="182.08" r="2.3"/><circle cx="500.05" cy="181.88" r="2.3"/><circle cx="500.24" cy="181.68" r="2.3"/><circle cx="500.51" cy="181.65" r="2.3"/><circle cx="500.72" cy="181.49" r="2.3"/><circle cx="500.98" cy="181.42" r="2.3"/><circle cx="501.02" cy="180.91" r="2.3"/><circle cx="501.23" cy="180.71" r="2.3"/><circle cx="501.47" cy="180.6" r="2.3"/><circle cx="501.62" cy="180.3" r="2.3"/><circle cx="501.83" cy="180.12" r="2.3"/><circle cx="502.06" cy="179.96" r="2.3"/><circle cx="502.21" cy="179.67" r="2.3"/><circle cx="502.39" cy="179.42" r="2.3"/><circle cx="502.45" cy="178.94" r="2.3"/><circle cx="502.74" cy="178.92" r="2.3"/><circle cx="502.88" cy="178.59" r="2.3"/><circle cx="502.97" cy="178.17" r="2.3"/><circle cx="503.26" cy="178.14" r="2.3"/><circle cx="503.36" cy="177.73" r="2.3"/><circle cx="503.59" cy="177.6" r="2.3"/><circle cx="503.83" cy="177.47" r="2.3"/><circle cx="504.08" cy="177.37" r="2.3"/><circle cx="504.36" cy="177.33" r="2.3"/><circle cx="504.44" cy="176.89" r="2.3"/><circle cx="504.59" cy="176.59" r="2.3"/><circle cx="504.92" cy="176.65" r="2.3"/><circle cx="505.07" cy="176.33" r="2.3"/><circle cx="505.33" cy="176.25" r="2.3"/><circle cx="505.56" cy="176.11" r="2.3"/><circle cx="505.7" cy="175.8" r="2.3"/><circle cx="505.86" cy="175.51" r="2.3"/><circle cx="506.06" cy="175.29" r="2.3"/><circle cx="506.31" cy="175.19" r="2.3"/><circle cx="506.55" cy="175.07" r="2.3"/><circle cx="506.65" cy="174.66" r="2.3"/><circle cx="506.93" cy="174.63" r="2.3"/><circle cx="507.19" cy="174.55" r="2.3"/><circle cx="507.16" cy="173.89" r="2.3"/><circle cx="507.3" cy="173.55" r="2.3"/><circle cx="507.52" cy="173.4" r="2.3"/><circle cx="507.73" cy="173.21" r="2.3"/><circle cx="507.91" cy="172.98" r="2.3"/><circle cx="508.22" cy="172.98" r="2.3"/><circle cx="508.35" cy="172.65" r="2.3"/><circle cx="508.55" cy="172.43" r="2.3"/><circle cx="508.71" cy="172.16" r="2.3"/><circle cx="509.09" cy="172.31" r="2.3"/><circle cx="509.4" cy="172.32" r="2.3"/><circle cx="509.62" cy="172.17" r="2.3"/><circle cx="509.81" cy="171.95" r="2.3"/><circle cx="510" cy="171.72" r="2.3"/><circle cx="510.19" cy="171.49" r="2.3"/><circle cx="510.48" cy="171.48" r="2.3"/><circle cx="510.56" cy="171.03" r="2.3"/><circle cx="510.82" cy="170.94" r="2.3"/><circle cx="511.05" cy="170.8" r="2.3"/><circle cx="511.31" cy="170.71" r="2.3"/><circle cx="511.47" cy="170.43" r="2.3"/><circle cx="511.69" cy="170.28" r="2.3"/><circle cx="511.9" cy="170.09" r="2.3"/><circle cx="512.05" cy="169.71" r="2.3"/><circle cx="512.32" cy="169.49" r="2.3"/><circle cx="512.67" cy="169.42" r="2.3"/><circle cx="512.85" cy="169.01" r="2.3"/><circle cx="513.16" cy="168.86" r="2.3"/><circle cx="513.29" cy="168.35" r="2.3"/><circle cx="513.52" cy="168.05" r="2.3"/><circle cx="513.75" cy="167.74" r="2.3"/><circle cx="514.11" cy="167.69" r="2.3"/><circle cx="514.42" cy="167.56" r="2.3"/><circle cx="514.68" cy="167.28" r="2.3"/><circle cx="514.91" cy="166.9" r="2.3"/><circle cx="515.18" cy="166.61" r="2.3"/><circle cx="515.3" cy="166.03" r="2.3"/><circle cx="515.71" cy="166.01" r="2.3"/><circle cx="516.06" cy="165.88" r="2.3"/><circle cx="516.42" cy="165.78" r="2.3"/><circle cx="516.6" cy="165.31" r="2.3"/><circle cx="517.02" cy="165.31" r="2.3"/><circle cx="517.27" cy="164.97" r="2.3"/><circle cx="517.49" cy="164.58" r="2.3"/><circle cx="517.79" cy="164.35" r="2.3"/><circle cx="518.14" cy="164.22" r="2.3"/><circle cx="518.4" cy="163.93" r="2.3"/><circle cx="518.6" cy="163.49" r="2.3"/><circle cx="519.7" cy="162.5" r="2.3"/><circle cx="520.69" cy="162.18" r="2.3"/><circle cx="521.64" cy="161.19" r="2.3"/><circle cx="522.42" cy="160.9" r="2.3"/><circle cx="523.85" cy="159.91" r="2.3"/><circle cx="525" cy="159.2" r="2.3"/><circle cx="526.08" cy="158.53" r="2.3"/><circle cx="527.34" cy="158.14" r="2.3"/><circle cx="528.26" cy="156.77" r="2.3"/><circle cx="529.6" cy="156" r="2.3"/><circle cx="530.61" cy="154.85" r="2.3"/><circle cx="531.77" cy="153.92" r="2.3"/><circle cx="532.76" cy="153.07" r="2.3"/><circle cx="532.9" cy="152" r="2.3"/><circle cx="533.03" cy="150.38" r="2.3"/><circle cx="533.61" cy="149.96" r="2.3"/><circle cx="535.31" cy="149.47" r="2.3"/><circle cx="536.1" cy="148.1" r="2.3"/><circle cx="537.47" cy="147.1" r="2.3"/><circle cx="537.76" cy="146.57" r="2.3"/><circle cx="538.91" cy="145.39" r="2.3"/><circle cx="539.4" cy="144.8" r="2.3"/><circle cx="543.1" cy="142.2" r="2.3"/><circle cx="542.3" cy="136.2" r="2.3"/><circle cx="546.9" cy="132.6" r="2.3"/><circle cx="549.3" cy="129.3" r="2.3"/></g>
<path d="M381 300.1L590.3 88.9" stroke="#858585" stroke-width="1.05" fill="none"/>
<path d="M381 88.9V300.1H590.3" stroke="#333" stroke-width="0.9" fill="none"/>
<path d="M381 300.1v4.0M381 300.1h-4.0M420.24 300.1v4.0M381 260.5h-4.0M433.32 300.1v4.0M381 247.3h-4.0M446.41 300.1v4.0M381 234.1h-4.0M459.49 300.1v4.0M381 220.9h-4.0M485.65 300.1v4.0M381 194.5h-4.0M511.81 300.1v4.0M381 168.1h-4.0M524.89 300.1v4.0M381 154.9h-4.0M537.98 300.1v4.0M381 141.7h-4.0M551.06 300.1v4.0M381 128.5h-4.0M590.3 300.1v4.0M381 88.9h-4.0" stroke="#262626" stroke-width="0.9" fill="none"/>
<g font-size="7.3">
<text x="381" y="312" text-anchor="middle">−4.0</text>
<text x="374.1" y="302.6" text-anchor="end">−4.0</text>
<text x="420.24" y="312" text-anchor="middle">−2.5</text>
<text x="374.1" y="263" text-anchor="end">−2.5</text>
<text x="433.32" y="312" text-anchor="middle">−2.0</text>
<text x="374.1" y="249.8" text-anchor="end">−2.0</text>
<text x="446.41" y="312" text-anchor="middle">−1.5</text>
<text x="374.1" y="236.6" text-anchor="end">−1.5</text>
<text x="459.49" y="312" text-anchor="middle">−1.0</text>
<text x="374.1" y="223.4" text-anchor="end">−1.0</text>
<text x="485.65" y="312" text-anchor="middle">0.0</text>
<text x="374.1" y="197" text-anchor="end">0.0</text>
<text x="511.81" y="312" text-anchor="middle">1.0</text>
<text x="374.1" y="170.6" text-anchor="end">1.0</text>
<text x="524.89" y="312" text-anchor="middle">1.5</text>
<text x="374.1" y="157.4" text-anchor="end">1.5</text>
<text x="537.98" y="312" text-anchor="middle">2.0</text>
<text x="374.1" y="144.2" text-anchor="end">2.0</text>
<text x="551.06" y="312" text-anchor="middle">2.5</text>
<text x="374.1" y="131" text-anchor="end">2.5</text>
<text x="590.3" y="312" text-anchor="middle">4.0</text>
<text x="374.1" y="91.4" text-anchor="end">4.0</text>
</g>
<text x="485.65" y="322.9" font-size="8.35" text-anchor="middle">First half series ( 1953-1986)</text>
<text transform="translate(353.8 194.5) rotate(-90)" font-size="8.35" text-anchor="middle">Second half series (1987-2020)</text>
<rect x="451.25" y="272.8" width="69.8" height="24.2" rx="1.8" fill="#fff" fill-opacity="0.8" stroke="#ccc" stroke-width="0.8"/>
<circle cx="461.25" cy="279.9" r="2.3" fill="#1f77b4" stroke="#1a3fe0" stroke-width="1.35"/>
<path d="M454.45 289.9h14.2" stroke="#8c8c8c" stroke-width="1"/>
<text x="474.95" y="282.1" font-size="7.7">Florya SPI-3</text>
<text x="474.95" y="292.2" font-size="7.7">1:1 line</text>
<g stroke="#1a1a1a" stroke-width="0.55"><rect x="407.16" y="74.09" width="13.08" height="2.51" fill="#800000"/><rect x="420.24" y="69.1" width="13.08" height="7.5" fill="#ff0000"/><rect x="433.32" y="59.12" width="13.08" height="17.48" fill="#ff8c00"/><rect x="446.41" y="41.68" width="13.08" height="34.92" fill="#f4a460"/><rect x="459.49" y="26.68" width="13.08" height="49.92" fill="#ffff00"/><rect x="472.57" y="17.55" width="13.08" height="59.05" fill="#ffff00"/><rect x="485.65" y="25.87" width="13.08" height="50.73" fill="#90ee90"/><rect x="498.73" y="21.69" width="13.08" height="54.91" fill="#90ee90"/><rect x="511.81" y="37.51" width="13.08" height="39.09" fill="#008000"/><rect x="524.89" y="59.97" width="13.08" height="16.63" fill="#add8e6"/><rect x="537.98" y="69.95" width="13.08" height="6.65" fill="#0000ff"/></g>
<g font-size="8.3"><text transform="translate(415.9 73.09) rotate(-90)">0.74</text><text transform="translate(428.98 68.1) rotate(-90)">2.21</text><text transform="translate(442.07 58.12) rotate(-90)">5.15</text><text transform="translate(455.15 40.68) rotate(-90)">10.29</text><text transform="translate(468.23 25.68) rotate(-90)">14.71</text><text transform="translate(481.31 16.55) rotate(-90)">17.4</text><text transform="translate(494.39 24.87) rotate(-90)">14.95</text><text transform="translate(507.47 20.69) rotate(-90)">16.18</text><text transform="translate(520.55 36.51) rotate(-90)">11.52</text><text transform="translate(533.63 58.97) rotate(-90)">4.9</text><text transform="translate(546.72 68.95) rotate(-90)">1.96</text></g>
<path d="M381 76.6H590.3M381 76.6v4.0M420.24 76.6v4.0M433.32 76.6v4.0M446.41 76.6v4.0M459.49 76.6v4.0M485.65 76.6v4.0M511.81 76.6v4.0M524.89 76.6v4.0M537.98 76.6v4.0M551.06 76.6v4.0M590.3 76.6v4.0" stroke="#262626" stroke-width="0.9" fill="none"/>
<g font-size="7.3" text-anchor="middle">
<text x="400.62" y="86.4">EXD</text>
<text x="426.78" y="86.4">ED</text>
<text x="439.87" y="86.4">SD</text>
<text x="452.95" y="86.4">MD</text>
<text x="472.57" y="86.4">AND</text>
<text x="498.73" y="86.4">ANW</text>
<text x="518.35" y="86.4">MW</text>
<text x="531.43" y="86.4">SW</text>
<text x="544.52" y="86.4">EW</text>
<text x="570.68" y="86.4">EXW</text>
</g>
<g stroke="#1a1a1a" stroke-width="0.55"><rect x="602.9" y="260.5" width="1.51" height="13.2" fill="#800000"/><rect x="602.9" y="247.3" width="7.54" height="13.2" fill="#ff0000"/><rect x="602.9" y="234.1" width="10.56" height="13.2" fill="#ff8c00"/><rect x="602.9" y="220.9" width="27.92" height="13.2" fill="#f4a460"/><rect x="602.9" y="207.7" width="46.03" height="13.2" fill="#ffff00"/><rect x="602.9" y="194.5" width="57.36" height="13.2" fill="#ffff00"/><rect x="602.9" y="181.3" width="58.1" height="13.2" fill="#90ee90"/><rect x="602.9" y="168.1" width="49.81" height="13.2" fill="#90ee90"/><rect x="602.9" y="154.9" width="37.71" height="13.2" fill="#008000"/><rect x="602.9" y="141.7" width="8.31" height="13.2" fill="#add8e6"/><rect x="602.9" y="128.5" width="3.02" height="13.2" fill="#0000ff"/></g>
<g font-size="8.3"><text x="607.01" y="269.5">0.49</text><text x="613.04" y="256.3">2.45</text><text x="616.06" y="243.1">3.43</text><text x="633.42" y="229.9">9.07</text><text x="651.53" y="216.7">14.95</text><text x="662.86" y="203.5">18.63</text><text x="663.6" y="190.3">18.87</text><text x="655.31" y="177.1">16.18</text><text x="643.21" y="163.9">12.25</text><text x="613.81" y="150.7">2.7</text><text x="608.52" y="137.5">0.98</text></g>
<path d="M602.9 88.9V300.1M602.9 300.1h-4.0M602.9 260.5h-4.0M602.9 247.3h-4.0M602.9 234.1h-4.0M602.9 220.9h-4.0M602.9 194.5h-4.0M602.9 168.1h-4.0M602.9 154.9h-4.0M602.9 141.7h-4.0M602.9 128.5h-4.0M602.9 88.9h-4.0" stroke="#262626" stroke-width="0.9" fill="none"/>
<g font-size="7.3" text-anchor="middle">
<text transform="translate(596.9 281.1) rotate(-90)">EXD</text>
<text transform="translate(596.9 254.7) rotate(-90)">ED</text>
<text transform="translate(596.9 241.5) rotate(-90)">SD</text>
<text transform="translate(596.9 228.3) rotate(-90)">MD</text>
<text transform="translate(596.9 208.5) rotate(-90)">AND</text>
<text transform="translate(596.9 182.1) rotate(-90)">ANW</text>
<text transform="translate(596.9 162.3) rotate(-90)">MW</text>
<text transform="translate(596.9 149.1) rotate(-90)">SW</text>
<text transform="translate(596.9 135.9) rotate(-90)">EW</text>
<text transform="translate(596.9 109.5) rotate(-90)">EXW</text>
</g>
</g>
<g id="p2">
<clipPath id="c2"><rect x="33.7" y="430.1" width="209" height="211.2"/></clipPath>
<path d="M33.7 430.1V641.3M33.7 641.3H242.7M72.89 430.1V641.3M33.7 601.7H242.7M85.95 430.1V641.3M33.7 588.5H242.7M99.01 430.1V641.3M33.7 575.3H242.7M112.08 430.1V641.3M33.7 562.1H242.7M138.2 430.1V641.3M33.7 535.7H242.7M164.32 430.1V641.3M33.7 509.3H242.7M177.39 430.1V641.3M33.7 496.1H242.7M190.45 430.1V641.3M33.7 482.9H242.7M203.51 430.1V641.3M33.7 469.7H242.7M33.7 430.1H242.7" stroke="#d2d2d2" stroke-width="0.75" fill="none" clip-path="url(#c2)"/>
<g fill="#1f77b4" stroke="#1a3fe0" stroke-width="1.35"><circle cx="116.7" cy="555.3" r="2.3"/><circle cx="115.86" cy="555.83" r="2.3"/><circle cx="114.38" cy="557.27" r="2.3"/><circle cx="113.85" cy="558.5" r="2.3"/><circle cx="112.8" cy="559.2" r="2.3"/><circle cx="112.19" cy="560.13" r="2.3"/><circle cx="111.32" cy="561.42" r="2.3"/><circle cx="110.66" cy="561.61" r="2.3"/><circle cx="109.44" cy="563.07" r="2.3"/><circle cx="108.8" cy="564.5" r="2.3"/><circle cx="107.99" cy="565.58" r="2.3"/><circle cx="106.67" cy="566.44" r="2.3"/><circle cx="105.56" cy="567.86" r="2.3"/><circle cx="104.9" cy="568.4" r="2.3"/><circle cx="104.53" cy="569.38" r="2.3"/><circle cx="102.46" cy="570.73" r="2.3"/><circle cx="103.09" cy="571.22" r="2.3"/><circle cx="101.6" cy="572.3" r="2.3"/><circle cx="101.04" cy="572.68" r="2.3"/><circle cx="99.41" cy="574.38" r="2.3"/><circle cx="98.53" cy="574.36" r="2.3"/><circle cx="98.3" cy="575.6" r="2.3"/><circle cx="97.46" cy="576.32" r="2.3"/><circle cx="95.83" cy="577.85" r="2.3"/><circle cx="95" cy="578.3" r="2.3"/><circle cx="93.76" cy="578.92" r="2.3"/><circle cx="92.45" cy="579.21" r="2.3"/><circle cx="91.8" cy="579.6" r="2.3"/><circle cx="89.98" cy="579.4" r="2.3"/><circle cx="89.41" cy="580.27" r="2.3"/><circle cx="88.5" cy="580" r="2.3"/><circle cx="87.58" cy="580.94" r="2.3"/><circle cx="86.5" cy="581.5" r="2.3"/><circle cx="85.62" cy="583.01" r="2.3"/><circle cx="85.2" cy="584.4" r="2.3"/><circle cx="84.38" cy="585.47" r="2.3"/><circle cx="83.2" cy="586.8" r="2.3"/><circle cx="82.58" cy="586.56" r="2.3"/><circle cx="81.12" cy="588.4" r="2.3"/><circle cx="79.9" cy="588.8" r="2.3"/><circle cx="79.83" cy="590.29" r="2.3"/><circle cx="78.4" cy="591.1" r="2.3"/><circle cx="71.8" cy="593.1" r="2.3"/><circle cx="67.1" cy="594" r="2.3"/><circle cx="67.1" cy="600.3" r="2.3"/><circle cx="117.45" cy="554.26" r="2.3"/><circle cx="117.79" cy="554.21" r="2.3"/><circle cx="118.01" cy="553.92" r="2.3"/><circle cx="118.28" cy="553.73" r="2.3"/><circle cx="118.54" cy="553.51" r="2.3"/><circle cx="118.7" cy="553.09" r="2.3"/><circle cx="118.95" cy="552.86" r="2.3"/><circle cx="119.22" cy="552.66" r="2.3"/><circle cx="119.52" cy="552.53" r="2.3"/><circle cx="119.78" cy="552.33" r="2.3"/><circle cx="119.92" cy="551.86" r="2.3"/><circle cx="120.26" cy="551.81" r="2.3"/><circle cx="120.62" cy="551.8" r="2.3"/><circle cx="121.03" cy="551.87" r="2.3"/><circle cx="121.43" cy="551.94" r="2.3"/><circle cx="121.54" cy="551.43" r="2.3"/><circle cx="121.79" cy="551.2" r="2.3"/><circle cx="122" cy="550.89" r="2.3"/><circle cx="122.36" cy="550.88" r="2.3"/><circle cx="122.64" cy="550.7" r="2.3"/><circle cx="122.88" cy="550.44" r="2.3"/><circle cx="123.08" cy="550.1" r="2.3"/><circle cx="123.22" cy="549.65" r="2.3"/><circle cx="123.5" cy="549.47" r="2.3"/><circle cx="123.82" cy="549.37" r="2.3"/><circle cx="123.97" cy="548.94" r="2.3"/><circle cx="124.19" cy="548.65" r="2.3"/><circle cx="124.47" cy="548.48" r="2.3"/><circle cx="124.74" cy="548.29" r="2.3"/><circle cx="124.96" cy="547.99" r="2.3"/><circle cx="125.16" cy="547.72" r="2.3"/><circle cx="125.4" cy="547.58" r="2.3"/><circle cx="125.55" cy="547.28" r="2.3"/><circle cx="125.78" cy="547.15" r="2.3"/><circle cx="126.07" cy="547.12" r="2.3"/><circle cx="126.32" cy="547.02" r="2.3"/><circle cx="126.44" cy="546.65" r="2.3"/><circle cx="126.67" cy="546.51" r="2.3"/><circle cx="126.96" cy="546.48" r="2.3"/><circle cx="127.12" cy="546.2" r="2.3"/><circle cx="127.21" cy="545.77" r="2.3"/><circle cx="127.4" cy="545.54" r="2.3"/><circle cx="127.62" cy="545.38" r="2.3"/><circle cx="127.78" cy="545.1" r="2.3"/><circle cx="127.96" cy="544.87" r="2.3"/><circle cx="128.17" cy="544.68" r="2.3"/><circle cx="128.33" cy="544.39" r="2.3"/><circle cx="128.46" cy="544.04" r="2.3"/><circle cx="128.76" cy="544.04" r="2.3"/><circle cx="129.09" cy="544.09" r="2.3"/><circle cx="129.34" cy="543.99" r="2.3"/><circle cx="129.58" cy="543.86" r="2.3"/><circle cx="129.88" cy="543.86" r="2.3"/><circle cx="130.08" cy="543.67" r="2.3"/><circle cx="130.29" cy="543.48" r="2.3"/><circle cx="130.56" cy="543.41" r="2.3"/><circle cx="130.8" cy="543.29" r="2.3"/><circle cx="131.05" cy="543.19" r="2.3"/><circle cx="131.23" cy="542.95" r="2.3"/><circle cx="131.41" cy="542.7" r="2.3"/><circle cx="131.61" cy="542.5" r="2.3"/><circle cx="131.73" cy="542.13" r="2.3"/><circle cx="131.97" cy="542.01" r="2.3"/><circle cx="132.18" cy="541.82" r="2.3"/><circle cx="132.39" cy="541.65" r="2.3"/><circle cx="132.57" cy="541.39" r="2.3"/><circle cx="132.75" cy="541.15" r="2.3"/><circle cx="132.92" cy="540.9" r="2.3"/><circle cx="133.15" cy="540.75" r="2.3"/><circle cx="133.38" cy="540.6" r="2.3"/><circle cx="133.66" cy="540.55" r="2.3"/><circle cx="133.88" cy="540.39" r="2.3"/><circle cx="134.13" cy="540.28" r="2.3"/><circle cx="134.33" cy="540.09" r="2.3"/><circle cx="134.56" cy="539.94" r="2.3"/><circle cx="134.76" cy="539.74" r="2.3"/><circle cx="134.97" cy="539.56" r="2.3"/><circle cx="135.11" cy="539.23" r="2.3"/><circle cx="135.29" cy="538.99" r="2.3"/><circle cx="135.54" cy="538.87" r="2.3"/><circle cx="135.7" cy="538.6" r="2.3"/><circle cx="135.98" cy="538.55" r="2.3"/><circle cx="136.11" cy="538.22" r="2.3"/><circle cx="136.38" cy="538.14" r="2.3"/><circle cx="136.61" cy="537.99" r="2.3"/><circle cx="136.75" cy="537.68" r="2.3"/><circle cx="137.01" cy="537.59" r="2.3"/><circle cx="137.13" cy="537.23" r="2.3"/><circle cx="137.32" cy="537" r="2.3"/><circle cx="137.6" cy="536.96" r="2.3"/><circle cx="137.82" cy="536.81" r="2.3"/><circle cx="138.11" cy="536.78" r="2.3"/><circle cx="138.19" cy="536.36" r="2.3"/><circle cx="138.32" cy="536.11" r="2.3"/><circle cx="138.66" cy="536.24" r="2.3"/><circle cx="138.84" cy="536.07" r="2.3"/><circle cx="139.18" cy="536.21" r="2.3"/><circle cx="139.32" cy="535.96" r="2.3"/><circle cx="139.43" cy="535.65" r="2.3"/><circle cx="139.44" cy="535.15" r="2.3"/><circle cx="139.55" cy="534.85" r="2.3"/><circle cx="139.86" cy="534.95" r="2.3"/><circle cx="140.01" cy="534.71" r="2.3"/><circle cx="140.15" cy="534.46" r="2.3"/><circle cx="140.33" cy="534.31" r="2.3"/><circle cx="140.45" cy="534.03" r="2.3"/><circle cx="140.65" cy="533.9" r="2.3"/><circle cx="140.85" cy="533.77" r="2.3"/><circle cx="141.2" cy="533.94" r="2.3"/><circle cx="141.32" cy="533.67" r="2.3"/><circle cx="141.47" cy="533.44" r="2.3"/><circle cx="141.77" cy="533.51" r="2.3"/><circle cx="141.92" cy="533.29" r="2.3"/><circle cx="142.15" cy="533.23" r="2.3"/><circle cx="142.14" cy="532.67" r="2.3"/><circle cx="142.3" cy="532.49" r="2.3"/><circle cx="142.42" cy="532.18" r="2.3"/><circle cx="142.46" cy="531.75" r="2.3"/><circle cx="142.69" cy="531.68" r="2.3"/><circle cx="142.85" cy="531.47" r="2.3"/><circle cx="142.9" cy="531.05" r="2.3"/><circle cx="143.09" cy="530.91" r="2.3"/><circle cx="143.1" cy="530.41" r="2.3"/><circle cx="143.47" cy="530.62" r="2.3"/><circle cx="143.64" cy="530.44" r="2.3"/><circle cx="143.78" cy="530.2" r="2.3"/><circle cx="143.89" cy="529.88" r="2.3"/><circle cx="143.97" cy="529.53" r="2.3"/><circle cx="144.07" cy="529.2" r="2.3"/><circle cx="144.29" cy="529.11" r="2.3"/><circle cx="144.48" cy="528.97" r="2.3"/><circle cx="144.77" cy="529.03" r="2.3"/><circle cx="144.83" cy="528.62" r="2.3"/><circle cx="144.9" cy="528.23" r="2.3"/><circle cx="145.14" cy="528.19" r="2.3"/><circle cx="145.33" cy="528.05" r="2.3"/><circle cx="145.58" cy="528.02" r="2.3"/><circle cx="145.77" cy="527.86" r="2.3"/><circle cx="146.06" cy="527.91" r="2.3"/><circle cx="146.08" cy="527.41" r="2.3"/><circle cx="146.23" cy="527.18" r="2.3"/><circle cx="146.56" cy="527.3" r="2.3"/><circle cx="146.82" cy="527.3" r="2.3"/><circle cx="146.97" cy="527.06" r="2.3"/><circle cx="147.3" cy="527.18" r="2.3"/><circle cx="147.37" cy="526.79" r="2.3"/><circle cx="147.49" cy="526.5" r="2.3"/><circle cx="147.47" cy="525.93" r="2.3"/><circle cx="147.75" cy="525.95" r="2.3"/><circle cx="147.94" cy="525.8" r="2.3"/><circle cx="148.02" cy="525.42" r="2.3"/><circle cx="148.32" cy="525.48" r="2.3"/><circle cx="148.52" cy="525.35" r="2.3"/><circle cx="148.61" cy="524.99" r="2.3"/><circle cx="148.87" cy="524.99" r="2.3"/><circle cx="149.19" cy="525.09" r="2.3"/><circle cx="149.42" cy="525.03" r="2.3"/><circle cx="149.56" cy="524.76" r="2.3"/><circle cx="149.78" cy="524.66" r="2.3"/><circle cx="150.02" cy="524.62" r="2.3"/><circle cx="150.13" cy="524.31" r="2.3"/><circle cx="150.25" cy="524.02" r="2.3"/><circle cx="150.37" cy="523.73" r="2.3"/><circle cx="150.55" cy="523.55" r="2.3"/><circle cx="150.65" cy="523.21" r="2.3"/><circle cx="150.8" cy="522.98" r="2.3"/><circle cx="150.98" cy="522.81" r="2.3"/><circle cx="151.1" cy="522.52" r="2.3"/><circle cx="151.18" cy="522.1" r="2.3"/><circle cx="151.35" cy="521.83" r="2.3"/><circle cx="151.61" cy="521.73" r="2.3"/><circle cx="151.85" cy="521.59" r="2.3"/><circle cx="152.06" cy="521.39" r="2.3"/><circle cx="152.32" cy="521.29" r="2.3"/><circle cx="152.57" cy="521.17" r="2.3"/><circle cx="152.75" cy="520.91" r="2.3"/><circle cx="152.95" cy="520.68" r="2.3"/><circle cx="153.22" cy="520.6" r="2.3"/><circle cx="153.44" cy="520.42" r="2.3"/><circle cx="153.66" cy="520.24" r="2.3"/><circle cx="153.95" cy="520.19" r="2.3"/><circle cx="154.19" cy="520.06" r="2.3"/><circle cx="154.31" cy="519.68" r="2.3"/><circle cx="154.44" cy="519.32" r="2.3"/><circle cx="154.63" cy="519.06" r="2.3"/><circle cx="154.84" cy="518.88" r="2.3"/><circle cx="155.01" cy="518.6" r="2.3"/><circle cx="155.19" cy="518.32" r="2.3"/><circle cx="155.41" cy="518.14" r="2.3"/><circle cx="155.63" cy="517.97" r="2.3"/><circle cx="155.93" cy="517.95" r="2.3"/><circle cx="156.2" cy="517.86" r="2.3"/><circle cx="156.57" cy="517.99" r="2.3"/><circle cx="156.88" cy="517.99" r="2.3"/><circle cx="157.14" cy="517.88" r="2.3"/><circle cx="157.37" cy="517.72" r="2.3"/><circle cx="157.53" cy="517.43" r="2.3"/><circle cx="157.77" cy="517.29" r="2.3"/><circle cx="157.99" cy="517.1" r="2.3"/><circle cx="158.01" cy="516.52" r="2.3"/><circle cx="158.23" cy="516.33" r="2.3"/><circle cx="158.35" cy="515.95" r="2.3"/><circle cx="158.56" cy="515.76" r="2.3"/><circle cx="158.66" cy="515.33" r="2.3"/><circle cx="158.85" cy="515.1" r="2.3"/><circle cx="159.17" cy="515.12" r="2.3"/><circle cx="159.45" cy="515.05" r="2.3"/><circle cx="159.6" cy="514.74" r="2.3"/><circle cx="159.94" cy="514.79" r="2.3"/><circle cx="160.16" cy="514.61" r="2.3"/><circle cx="160.38" cy="514.44" r="2.3"/><circle cx="160.55" cy="514.14" r="2.3"/><circle cx="160.8" cy="514.03" r="2.3"/><circle cx="161.01" cy="513.82" r="2.3"/><circle cx="161.18" cy="513.54" r="2.3"/><circle cx="161.35" cy="513.27" r="2.3"/><circle cx="161.57" cy="513.08" r="2.3"/><circle cx="161.76" cy="512.85" r="2.3"/><circle cx="161.93" cy="512.57" r="2.3"/><circle cx="162.16" cy="512.4" r="2.3"/><circle cx="162.23" cy="511.92" r="2.3"/><circle cx="162.38" cy="511.6" r="2.3"/><circle cx="162.6" cy="511.42" r="2.3"/><circle cx="162.72" cy="511.03" r="2.3"/><circle cx="162.9" cy="510.78" r="2.3"/><circle cx="163.11" cy="510.58" r="2.3"/><circle cx="163.24" cy="510.22" r="2.3"/><circle cx="163.49" cy="510.09" r="2.3"/><circle cx="163.59" cy="509.67" r="2.3"/><circle cx="163.91" cy="509.7" r="2.3"/><circle cx="164.21" cy="509.6" r="2.3"/><circle cx="164.41" cy="509.27" r="2.3"/><circle cx="164.83" cy="509.35" r="2.3"/><circle cx="165.04" cy="509.03" r="2.3"/><circle cx="165.35" cy="508.91" r="2.3"/><circle cx="165.66" cy="508.78" r="2.3"/><circle cx="165.95" cy="508.6" r="2.3"/><circle cx="166.25" cy="508.46" r="2.3"/><circle cx="166.55" cy="508.31" r="2.3"/><circle cx="167.7" cy="507.5" r="2.3"/><circle cx="169.26" cy="506.27" r="2.3"/><circle cx="170.1" cy="506.35" r="2.3"/><circle cx="171" cy="505.6" r="2.3"/><circle cx="172.14" cy="504.61" r="2.3"/><circle cx="172.99" cy="503.74" r="2.3"/><circle cx="174.3" cy="502.9" r="2.3"/><circle cx="175.75" cy="502.36" r="2.3"/><circle cx="176.28" cy="501.1" r="2.3"/><circle cx="177.6" cy="500.3" r="2.3"/><circle cx="179.13" cy="500.49" r="2.3"/><circle cx="180.38" cy="498.8" r="2.3"/><circle cx="181.5" cy="499" r="2.3"/><circle cx="181.81" cy="497.69" r="2.3"/><circle cx="183.46" cy="496.88" r="2.3"/><circle cx="184.2" cy="496.4" r="2.3"/><circle cx="185.1" cy="495.5" r="2.3"/><circle cx="185.46" cy="493.79" r="2.3"/><circle cx="186.1" cy="493.1" r="2.3"/><circle cx="186.42" cy="491.78" r="2.3"/><circle cx="186.35" cy="490.47" r="2.3"/><circle cx="186.8" cy="489.8" r="2.3"/><circle cx="188.15" cy="489.71" r="2.3"/><circle cx="187.68" cy="488.36" r="2.3"/><circle cx="189.4" cy="487.8" r="2.3"/><circle cx="191.23" cy="488" r="2.3"/><circle cx="192.32" cy="487.54" r="2.3"/><circle cx="193.4" cy="487.2" r="2.3"/><circle cx="194.73" cy="485.84" r="2.3"/><circle cx="195" cy="485.56" r="2.3"/><circle cx="196.3" cy="483.9" r="2.3"/><circle cx="198" cy="474" r="2.3"/><circle cx="201.9" cy="473.1" r="2.3"/></g>
<path d="M33.7 641.3L242.7 430.1" stroke="#858585" stroke-width="1.05" fill="none"/>
<path d="M33.7 430.1V641.3H242.7" stroke="#333" stroke-width="0.9" fill="none"/>
<path d="M33.7 641.3v4.0M33.7 641.3h-4.0M72.89 641.3v4.0M33.7 601.7h-4.0M85.95 641.3v4.0M33.7 588.5h-4.0M99.01 641.3v4.0M33.7 575.3h-4.0M112.08 641.3v4.0M33.7 562.1h-4.0M138.2 641.3v4.0M33.7 535.7h-4.0M164.32 641.3v4.0M33.7 509.3h-4.0M177.39 641.3v4.0M33.7 496.1h-4.0M190.45 641.3v4.0M33.7 482.9h-4.0M203.51 641.3v4.0M33.7 469.7h-4.0M242.7 641.3v4.0M33.7 430.1h-4.0" stroke="#262626" stroke-width="0.9" fill="none"/>
<g font-size="7.3">
<text x="33.7" y="653.2" text-anchor="middle">−4.0</text>
<text x="26.8" y="643.8" text-anchor="end">−4.0</text>
<text x="72.89" y="653.2" text-anchor="middle">−2.5</text>
<text x="26.8" y="604.2" text-anchor="end">−2.5</text>
<text x="85.95" y="653.2" text-anchor="middle">−2.0</text>
<text x="26.8" y="591" text-anchor="end">−2.0</text>
<text x="99.01" y="653.2" text-anchor="middle">−1.5</text>
<text x="26.8" y="577.8" text-anchor="end">−1.5</text>
<text x="112.08" y="653.2" text-anchor="middle">−1.0</text>
<text x="26.8" y="564.6" text-anchor="end">−1.0</text>
<text x="138.2" y="653.2" text-anchor="middle">0.0</text>
<text x="26.8" y="538.2" text-anchor="end">0.0</text>
<text x="164.32" y="653.2" text-anchor="middle">1.0</text>
<text x="26.8" y="511.8" text-anchor="end">1.0</text>
<text x="177.39" y="653.2" text-anchor="middle">1.5</text>
<text x="26.8" y="498.6" text-anchor="end">1.5</text>
<text x="190.45" y="653.2" text-anchor="middle">2.0</text>
<text x="26.8" y="485.4" text-anchor="end">2.0</text>
<text x="203.51" y="653.2" text-anchor="middle">2.5</text>
<text x="26.8" y="472.2" text-anchor="end">2.5</text>
<text x="242.7" y="653.2" text-anchor="middle">4.0</text>
<text x="26.8" y="432.6" text-anchor="end">4.0</text>
</g>
<text x="138.2" y="664.1" font-size="8.35" text-anchor="middle">First half series ( 1953-1986)</text>
<text transform="translate(6.5 535.7) rotate(-90)" font-size="8.35" text-anchor="middle">Second half series (1987-2020)</text>
<rect x="103.8" y="614" width="69.8" height="24.2" rx="1.8" fill="#fff" fill-opacity="0.8" stroke="#ccc" stroke-width="0.8"/>
<circle cx="113.8" cy="621.1" r="2.3" fill="#1f77b4" stroke="#1a3fe0" stroke-width="1.35"/>
<path d="M107 631.1h14.2" stroke="#8c8c8c" stroke-width="1"/>
<text x="127.5" y="623.3" font-size="7.7">Florya SPI-6</text>
<text x="127.5" y="633.4" font-size="7.7">1:1 line</text>
<g stroke="#1a1a1a" stroke-width="0.55"><rect x="59.83" y="415.45" width="13.06" height="2.35" fill="#800000"/><rect x="72.89" y="410.8" width="13.06" height="7" fill="#ff0000"/><rect x="85.95" y="404.58" width="13.06" height="13.22" fill="#ff8c00"/><rect x="99.01" y="377.39" width="13.06" height="40.41" fill="#f4a460"/><rect x="112.08" y="378.18" width="13.06" height="39.62" fill="#ffff00"/><rect x="125.14" y="369.62" width="13.06" height="48.18" fill="#ffff00"/><rect x="138.2" y="358.75" width="13.06" height="59.05" fill="#90ee90"/><rect x="151.26" y="369.62" width="13.06" height="48.18" fill="#90ee90"/><rect x="164.32" y="380.53" width="13.06" height="37.27" fill="#008000"/><rect x="177.39" y="401.48" width="13.06" height="16.32" fill="#add8e6"/><rect x="190.45" y="412.35" width="13.06" height="5.45" fill="#0000ff"/></g>
<g font-size="8.3"><text transform="translate(68.56 414.45) rotate(-90)">0.74</text><text transform="translate(81.62 409.8) rotate(-90)">2.21</text><text transform="translate(94.68 403.58) rotate(-90)">4.17</text><text transform="translate(107.74 376.39) rotate(-90)">12.75</text><text transform="translate(120.81 377.18) rotate(-90)">12.5</text><text transform="translate(133.87 368.62) rotate(-90)">15.2</text><text transform="translate(146.93 357.75) rotate(-90)">18.63</text><text transform="translate(159.99 368.62) rotate(-90)">15.2</text><text transform="translate(173.06 379.53) rotate(-90)">11.76</text><text transform="translate(186.12 400.48) rotate(-90)">5.15</text><text transform="translate(199.18 411.35) rotate(-90)">1.72</text></g>
<path d="M33.7 417.8H242.7M33.7 417.8v4.0M72.89 417.8v4.0M85.95 417.8v4.0M99.01 417.8v4.0M112.08 417.8v4.0M138.2 417.8v4.0M164.32 417.8v4.0M177.39 417.8v4.0M190.45 417.8v4.0M203.51 417.8v4.0M242.7 417.8v4.0" stroke="#262626" stroke-width="0.9" fill="none"/>
<g font-size="7.3" text-anchor="middle">
<text x="53.29" y="427.6">EXD</text>
<text x="79.42" y="427.6">ED</text>
<text x="92.48" y="427.6">SD</text>
<text x="105.54" y="427.6">MD</text>
<text x="125.14" y="427.6">AND</text>
<text x="151.26" y="427.6">ANW</text>
<text x="170.86" y="427.6">MW</text>
<text x="183.92" y="427.6">SW</text>
<text x="196.98" y="427.6">EW</text>
<text x="223.11" y="427.6">EXW</text>
</g>
<g stroke="#1a1a1a" stroke-width="0.55"><rect x="255.3" y="588.5" width="3.18" height="13.2" fill="#ff0000"/><rect x="255.3" y="575.3" width="18.32" height="13.2" fill="#ff8c00"/><rect x="255.3" y="562.1" width="39.78" height="13.2" fill="#f4a460"/><rect x="255.3" y="548.9" width="43.77" height="13.2" fill="#ffff00"/><rect x="255.3" y="535.7" width="53.32" height="13.2" fill="#ffff00"/><rect x="255.3" y="522.5" width="58.1" height="13.2" fill="#90ee90"/><rect x="255.3" y="509.3" width="55.72" height="13.2" fill="#90ee90"/><rect x="255.3" y="496.1" width="39" height="13.2" fill="#008000"/><rect x="255.3" y="482.9" width="11.95" height="13.2" fill="#add8e6"/><rect x="255.3" y="469.7" width="1.59" height="13.2" fill="#0000ff"/></g>
<g font-size="8.3"><text x="261.08" y="597.5">0.98</text><text x="276.22" y="584.3">5.64</text><text x="297.68" y="571.1">12.25</text><text x="301.67" y="557.9">13.48</text><text x="311.22" y="544.7">16.42</text><text x="316" y="531.5">17.89</text><text x="313.62" y="518.3">17.16</text><text x="296.9" y="505.1">12.01</text><text x="269.85" y="491.9">3.68</text><text x="259.49" y="478.7">0.49</text></g>
<path d="M255.3 430.1V641.3M255.3 641.3h-4.0M255.3 601.7h-4.0M255.3 588.5h-4.0M255.3 575.3h-4.0M255.3 562.1h-4.0M255.3 535.7h-4.0M255.3 509.3h-4.0M255.3 496.1h-4.0M255.3 482.9h-4.0M255.3 469.7h-4.0M255.3 430.1h-4.0" stroke="#262626" stroke-width="0.9" fill="none"/>
<g font-size="7.3" text-anchor="middle">
<text transform="translate(249.3 622.3) rotate(-90)">EXD</text>
<text transform="translate(249.3 595.9) rotate(-90)">ED</text>
<text transform="translate(249.3 582.7) rotate(-90)">SD</text>
<text transform="translate(249.3 569.5) rotate(-90)">MD</text>
<text transform="translate(249.3 549.7) rotate(-90)">AND</text>
<text transform="translate(249.3 523.3) rotate(-90)">ANW</text>
<text transform="translate(249.3 503.5) rotate(-90)">MW</text>
<text transform="translate(249.3 490.3) rotate(-90)">SW</text>
<text transform="translate(249.3 477.1) rotate(-90)">EW</text>
<text transform="translate(249.3 450.7) rotate(-90)">EXW</text>
</g>
</g>
<g id="p3">
<clipPath id="c3"><rect x="379.7" y="430.1" width="209" height="211.2"/></clipPath>
<path d="M379.7 430.1V641.3M379.7 641.3H588.7M418.89 430.1V641.3M379.7 601.7H588.7M431.95 430.1V641.3M379.7 588.5H588.7M445.01 430.1V641.3M379.7 575.3H588.7M458.07 430.1V641.3M379.7 562.1H588.7M484.2 430.1V641.3M379.7 535.7H588.7M510.32 430.1V641.3M379.7 509.3H588.7M523.39 430.1V641.3M379.7 496.1H588.7M536.45 430.1V641.3M379.7 482.9H588.7M549.51 430.1V641.3M379.7 469.7H588.7M379.7 430.1H588.7" stroke="#d2d2d2" stroke-width="0.75" fill="none" clip-path="url(#c3)"/>
<g fill="#1f77b4" stroke="#1a3fe0" stroke-width="1.35"><circle cx="478.3" cy="545.3" r="2.3"/><circle cx="477.28" cy="546.33" r="2.3"/><circle cx="477.05" cy="547.81" r="2.3"/><circle cx="475.61" cy="549.18" r="2.3"/><circle cx="475.6" cy="549.47" r="2.3"/><circle cx="474.6" cy="550.5" r="2.3"/><circle cx="474.41" cy="551.6" r="2.3"/><circle cx="472.65" cy="552.16" r="2.3"/><circle cx="472.42" cy="553.89" r="2.3"/><circle cx="470.82" cy="554.93" r="2.3"/><circle cx="470.1" cy="555.8" r="2.3"/><circle cx="469.24" cy="556.23" r="2.3"/><circle cx="467.91" cy="557.67" r="2.3"/><circle cx="467.67" cy="558.59" r="2.3"/><circle cx="466.3" cy="559.5" r="2.3"/><circle cx="466.14" cy="561.04" r="2.3"/><circle cx="464.3" cy="561.02" r="2.3"/><circle cx="463.51" cy="563.04" r="2.3"/><circle cx="462.6" cy="564" r="2.3"/><circle cx="462.5" cy="564.95" r="2.3"/><circle cx="462.02" cy="566.42" r="2.3"/><circle cx="460.91" cy="566.73" r="2.3"/><circle cx="461.1" cy="568.5" r="2.3"/><circle cx="459.67" cy="569.31" r="2.3"/><circle cx="459.15" cy="570.21" r="2.3"/><circle cx="458.47" cy="571.15" r="2.3"/><circle cx="457.3" cy="572.3" r="2.3"/><circle cx="456.22" cy="573.19" r="2.3"/><circle cx="454.69" cy="573.15" r="2.3"/><circle cx="453.3" cy="574.2" r="2.3"/><circle cx="452.54" cy="575.01" r="2.3"/><circle cx="451.31" cy="575.88" r="2.3"/><circle cx="450" cy="576.26" r="2.3"/><circle cx="449.8" cy="577.5" r="2.3"/><circle cx="448.56" cy="577.91" r="2.3"/><circle cx="447.34" cy="579.02" r="2.3"/><circle cx="446.8" cy="579.8" r="2.3"/><circle cx="445.74" cy="580.26" r="2.3"/><circle cx="444.43" cy="580.7" r="2.3"/><circle cx="443.8" cy="581.3" r="2.3"/><circle cx="443.16" cy="582.05" r="2.3"/><circle cx="443" cy="583.75" r="2.3"/><circle cx="442.8" cy="584.7" r="2.3"/><circle cx="442.39" cy="585.28" r="2.3"/><circle cx="442.32" cy="587.09" r="2.3"/><circle cx="442" cy="588" r="2.3"/><circle cx="441.07" cy="588.18" r="2.3"/><circle cx="439.23" cy="588.46" r="2.3"/><circle cx="438.6" cy="588.8" r="2.3"/><circle cx="437.98" cy="589.63" r="2.3"/><circle cx="436.85" cy="591.4" r="2.3"/><circle cx="435.9" cy="591.8" r="2.3"/><circle cx="434.75" cy="592.91" r="2.3"/><circle cx="433.8" cy="592.6" r="2.3"/><circle cx="432.1" cy="599.6" r="2.3"/><circle cx="432.3" cy="606.8" r="2.3"/><circle cx="431.5" cy="609.5" r="2.3"/><circle cx="430.8" cy="613.6" r="2.3"/><circle cx="428.3" cy="615.1" r="2.3"/><circle cx="425.5" cy="616.9" r="2.3"/><circle cx="424.6" cy="621.5" r="2.3"/><circle cx="422" cy="623" r="2.3"/><circle cx="420.5" cy="632.8" r="2.3"/><circle cx="479.05" cy="544.1" r="2.3"/><circle cx="479.23" cy="543.99" r="2.3"/><circle cx="479.39" cy="543.85" r="2.3"/><circle cx="479.58" cy="543.77" r="2.3"/><circle cx="479.69" cy="543.53" r="2.3"/><circle cx="479.86" cy="543.39" r="2.3"/><circle cx="479.89" cy="542.99" r="2.3"/><circle cx="480.07" cy="542.89" r="2.3"/><circle cx="480.14" cy="542.55" r="2.3"/><circle cx="480.25" cy="542.31" r="2.3"/><circle cx="480.28" cy="541.9" r="2.3"/><circle cx="480.44" cy="541.75" r="2.3"/><circle cx="480.52" cy="541.45" r="2.3"/><circle cx="480.61" cy="541.15" r="2.3"/><circle cx="480.8" cy="541.07" r="2.3"/><circle cx="481.09" cy="541.19" r="2.3"/><circle cx="481.27" cy="541.08" r="2.3"/><circle cx="481.54" cy="541.15" r="2.3"/><circle cx="481.6" cy="540.81" r="2.3"/><circle cx="481.79" cy="540.72" r="2.3"/><circle cx="481.93" cy="540.53" r="2.3"/><circle cx="482.12" cy="540.45" r="2.3"/><circle cx="482.36" cy="540.46" r="2.3"/><circle cx="482.43" cy="540.14" r="2.3"/><circle cx="482.59" cy="539.99" r="2.3"/><circle cx="482.65" cy="539.65" r="2.3"/><circle cx="482.74" cy="539.35" r="2.3"/><circle cx="482.92" cy="539.26" r="2.3"/><circle cx="482.97" cy="538.88" r="2.3"/><circle cx="483.07" cy="538.63" r="2.3"/><circle cx="483.23" cy="538.48" r="2.3"/><circle cx="483.22" cy="537.99" r="2.3"/><circle cx="483.35" cy="537.79" r="2.3"/><circle cx="483.33" cy="537.28" r="2.3"/><circle cx="483.48" cy="537.11" r="2.3"/><circle cx="483.71" cy="537.12" r="2.3"/><circle cx="483.83" cy="536.95" r="2.3"/><circle cx="484.04" cy="536.92" r="2.3"/><circle cx="484.25" cy="536.84" r="2.3"/><circle cx="484.36" cy="536.58" r="2.3"/><circle cx="484.63" cy="536.63" r="2.3"/><circle cx="484.82" cy="536.51" r="2.3"/><circle cx="485.02" cy="536.44" r="2.3"/><circle cx="485.13" cy="536.17" r="2.3"/><circle cx="485.22" cy="535.85" r="2.3"/><circle cx="485.46" cy="535.85" r="2.3"/><circle cx="485.7" cy="535.85" r="2.3"/><circle cx="485.85" cy="535.65" r="2.3"/><circle cx="486.08" cy="535.62" r="2.3"/><circle cx="486.22" cy="535.41" r="2.3"/><circle cx="486.36" cy="535.21" r="2.3"/><circle cx="486.48" cy="534.95" r="2.3"/><circle cx="486.82" cy="535.15" r="2.3"/><circle cx="486.97" cy="534.97" r="2.3"/><circle cx="487.1" cy="534.74" r="2.3"/><circle cx="487.29" cy="534.63" r="2.3"/><circle cx="487.46" cy="534.48" r="2.3"/><circle cx="487.62" cy="534.32" r="2.3"/><circle cx="487.83" cy="534.24" r="2.3"/><circle cx="488.04" cy="534.17" r="2.3"/><circle cx="488.31" cy="534.24" r="2.3"/><circle cx="488.39" cy="533.89" r="2.3"/><circle cx="488.66" cy="533.96" r="2.3"/><circle cx="488.85" cy="533.85" r="2.3"/><circle cx="488.89" cy="533.43" r="2.3"/><circle cx="489.01" cy="533.19" r="2.3"/><circle cx="489.16" cy="533" r="2.3"/><circle cx="489.29" cy="532.77" r="2.3"/><circle cx="489.45" cy="532.59" r="2.3"/><circle cx="489.65" cy="532.52" r="2.3"/><circle cx="489.81" cy="532.34" r="2.3"/><circle cx="489.9" cy="532.04" r="2.3"/><circle cx="490.06" cy="531.86" r="2.3"/><circle cx="490.19" cy="531.64" r="2.3"/><circle cx="490.45" cy="531.67" r="2.3"/><circle cx="490.68" cy="531.65" r="2.3"/><circle cx="490.96" cy="531.71" r="2.3"/><circle cx="491.12" cy="531.54" r="2.3"/><circle cx="491.22" cy="531.26" r="2.3"/><circle cx="491.44" cy="531.21" r="2.3"/><circle cx="491.62" cy="531.08" r="2.3"/><circle cx="491.71" cy="530.77" r="2.3"/><circle cx="492.03" cy="530.92" r="2.3"/><circle cx="492.16" cy="530.7" r="2.3"/><circle cx="492.32" cy="530.54" r="2.3"/><circle cx="492.37" cy="530.15" r="2.3"/><circle cx="492.64" cy="530.2" r="2.3"/><circle cx="492.82" cy="530.07" r="2.3"/><circle cx="492.95" cy="529.83" r="2.3"/><circle cx="493.18" cy="529.8" r="2.3"/><circle cx="493.48" cy="529.92" r="2.3"/><circle cx="493.56" cy="529.59" r="2.3"/><circle cx="494.5" cy="528.3" r="2.3"/><circle cx="495.95" cy="527.61" r="2.3"/><circle cx="496.68" cy="526.55" r="2.3"/><circle cx="497.82" cy="525.47" r="2.3"/><circle cx="499" cy="524.6" r="2.3"/><circle cx="500.12" cy="523.68" r="2.3"/><circle cx="499.93" cy="522.93" r="2.3"/><circle cx="500.57" cy="522.07" r="2.3"/><circle cx="501.86" cy="521.02" r="2.3"/><circle cx="502.8" cy="520.1" r="2.3"/><circle cx="503.08" cy="518.91" r="2.3"/><circle cx="504.19" cy="518.37" r="2.3"/><circle cx="504.33" cy="517.69" r="2.3"/><circle cx="505.21" cy="516.23" r="2.3"/><circle cx="505.8" cy="514.8" r="2.3"/><circle cx="506.62" cy="513.56" r="2.3"/><circle cx="508.08" cy="512.42" r="2.3"/><circle cx="508.64" cy="511.66" r="2.3"/><circle cx="509.5" cy="510.3" r="2.3"/><circle cx="510.22" cy="509.21" r="2.3"/><circle cx="510.86" cy="508.38" r="2.3"/><circle cx="512.42" cy="507.79" r="2.3"/><circle cx="512.5" cy="506.6" r="2.3"/><circle cx="512.52" cy="505.14" r="2.3"/><circle cx="514.22" cy="504.17" r="2.3"/><circle cx="514.79" cy="503.25" r="2.3"/><circle cx="515.5" cy="502.1" r="2.3"/><circle cx="516.24" cy="500.64" r="2.3"/><circle cx="516.66" cy="499.3" r="2.3"/><circle cx="517.8" cy="498.3" r="2.3"/><circle cx="518.23" cy="496.82" r="2.3"/><circle cx="518.83" cy="495.82" r="2.3"/><circle cx="519.3" cy="494.6" r="2.3"/><circle cx="520.63" cy="493.97" r="2.3"/><circle cx="521.5" cy="492.3" r="2.3"/><circle cx="522.34" cy="491.65" r="2.3"/><circle cx="522.95" cy="489.59" r="2.3"/><circle cx="523.8" cy="489.3" r="2.3"/><circle cx="523.84" cy="487.78" r="2.3"/><circle cx="524.63" cy="487.29" r="2.3"/><circle cx="525" cy="485.6" r="2.3"/><circle cx="525.74" cy="483.68" r="2.3"/><circle cx="526.2" cy="483.51" r="2.3"/><circle cx="526" cy="481.8" r="2.3"/><circle cx="526.34" cy="479.8" r="2.3"/><circle cx="526.26" cy="479.35" r="2.3"/><circle cx="527.1" cy="477.7" r="2.3"/><circle cx="526.98" cy="476.17" r="2.3"/><circle cx="527.84" cy="475.31" r="2.3"/><circle cx="527.5" cy="474.3" r="2.3"/><circle cx="528.7" cy="470.8" r="2.3"/><circle cx="532.5" cy="469.3" r="2.3"/><circle cx="538" cy="467.1" r="2.3"/><circle cx="538.5" cy="463.3" r="2.3"/></g>
<path d="M379.7 641.3L588.7 430.1" stroke="#858585" stroke-width="1.05" fill="none"/>
<path d="M379.7 430.1V641.3H588.7" stroke="#333" stroke-width="0.9" fill="none"/>
<path d="M379.7 641.3v4.0M379.7 641.3h-4.0M418.89 641.3v4.0M379.7 601.7h-4.0M431.95 641.3v4.0M379.7 588.5h-4.0M445.01 641.3v4.0M379.7 575.3h-4.0M458.07 641.3v4.0M379.7 562.1h-4.0M484.2 641.3v4.0M379.7 535.7h-4.0M510.32 641.3v4.0M379.7 509.3h-4.0M523.39 641.3v4.0M379.7 496.1h-4.0M536.45 641.3v4.0M379.7 482.9h-4.0M549.51 641.3v4.0M379.7 469.7h-4.0M588.7 641.3v4.0M379.7 430.1h-4.0" stroke="#262626" stroke-width="0.9" fill="none"/>
<g font-size="7.3">
<text x="379.7" y="653.2" text-anchor="middle">−4.0</text>
<text x="372.8" y="643.8" text-anchor="end">−4.0</text>
<text x="418.89" y="653.2" text-anchor="middle">−2.5</text>
<text x="372.8" y="604.2" text-anchor="end">−2.5</text>
<text x="431.95" y="653.2" text-anchor="middle">−2.0</text>
<text x="372.8" y="591" text-anchor="end">−2.0</text>
<text x="445.01" y="653.2" text-anchor="middle">−1.5</text>
<text x="372.8" y="577.8" text-anchor="end">−1.5</text>
<text x="458.07" y="653.2" text-anchor="middle">−1.0</text>
<text x="372.8" y="564.6" text-anchor="end">−1.0</text>
<text x="484.2" y="653.2" text-anchor="middle">0.0</text>
<text x="372.8" y="538.2" text-anchor="end">0.0</text>
<text x="510.32" y="653.2" text-anchor="middle">1.0</text>
<text x="372.8" y="511.8" text-anchor="end">1.0</text>
<text x="523.39" y="653.2" text-anchor="middle">1.5</text>
<text x="372.8" y="498.6" text-anchor="end">1.5</text>
<text x="536.45" y="653.2" text-anchor="middle">2.0</text>
<text x="372.8" y="485.4" text-anchor="end">2.0</text>
<text x="549.51" y="653.2" text-anchor="middle">2.5</text>
<text x="372.8" y="472.2" text-anchor="end">2.5</text>
<text x="588.7" y="653.2" text-anchor="middle">4.0</text>
<text x="372.8" y="432.6" text-anchor="end">4.0</text>
</g>
<text x="484.2" y="664.1" font-size="8.35" text-anchor="middle">First half series ( 1953-1986)</text>
<text transform="translate(352.5 535.7) rotate(-90)" font-size="8.35" text-anchor="middle">Second half series (1987-2020)</text>
<rect x="447.8" y="614" width="73.8" height="24.2" rx="1.8" fill="#fff" fill-opacity="0.8" stroke="#ccc" stroke-width="0.8"/>
<circle cx="457.8" cy="621.1" r="2.3" fill="#1f77b4" stroke="#1a3fe0" stroke-width="1.35"/>
<path d="M451 631.1h14.2" stroke="#8c8c8c" stroke-width="1"/>
<text x="471.5" y="623.3" font-size="7.7">Florya SPI-12</text>
<text x="471.5" y="633.4" font-size="7.7">1:1 line</text>
<g stroke="#1a1a1a" stroke-width="0.55"><rect x="418.89" y="412.83" width="13.06" height="4.97" fill="#ff0000"/><rect x="431.95" y="408.47" width="13.06" height="9.33" fill="#ff8c00"/><rect x="445.01" y="397.91" width="13.06" height="19.89" fill="#f4a460"/><rect x="458.07" y="386.73" width="13.06" height="31.07" fill="#ffff00"/><rect x="471.14" y="358.75" width="13.06" height="59.05" fill="#ffff00"/><rect x="484.2" y="370.55" width="13.06" height="47.25" fill="#90ee90"/><rect x="497.26" y="374.91" width="13.06" height="42.89" fill="#90ee90"/><rect x="510.32" y="391.07" width="13.06" height="26.73" fill="#008000"/><rect x="523.39" y="406.61" width="13.06" height="11.19" fill="#add8e6"/><rect x="536.45" y="416.56" width="13.06" height="1.24" fill="#0000ff"/></g>
<g font-size="8.3"><text transform="translate(427.62 411.83) rotate(-90)">1.96</text><text transform="translate(440.68 407.47) rotate(-90)">3.68</text><text transform="translate(453.74 396.91) rotate(-90)">7.84</text><text transform="translate(466.81 385.73) rotate(-90)">12.25</text><text transform="translate(479.87 357.75) rotate(-90)">23.28</text><text transform="translate(492.93 369.55) rotate(-90)">18.63</text><text transform="translate(505.99 373.91) rotate(-90)">16.91</text><text transform="translate(519.06 390.07) rotate(-90)">10.54</text><text transform="translate(532.12 405.61) rotate(-90)">4.41</text><text transform="translate(545.18 415.56) rotate(-90)">0.49</text></g>
<path d="M379.7 417.8H588.7M379.7 417.8v4.0M418.89 417.8v4.0M431.95 417.8v4.0M445.01 417.8v4.0M458.07 417.8v4.0M484.2 417.8v4.0M510.32 417.8v4.0M523.39 417.8v4.0M536.45 417.8v4.0M549.51 417.8v4.0M588.7 417.8v4.0" stroke="#262626" stroke-width="0.9" fill="none"/>
<g font-size="7.3" text-anchor="middle">
<text x="399.29" y="427.6">EXD</text>
<text x="425.42" y="427.6">ED</text>
<text x="438.48" y="427.6">SD</text>
<text x="451.54" y="427.6">MD</text>
<text x="471.14" y="427.6">AND</text>
<text x="497.26" y="427.6">ANW</text>
<text x="516.86" y="427.6">MW</text>
<text x="529.92" y="427.6">SW</text>
<text x="542.98" y="427.6">EW</text>
<text x="569.11" y="427.6">EXW</text>
</g>
<g stroke="#1a1a1a" stroke-width="0.55"><rect x="601.3" y="628.1" width="0.62" height="13.2" fill="#800000"/><rect x="601.3" y="614.9" width="2.42" height="13.2" fill="#800000"/><rect x="601.3" y="601.7" width="2.42" height="13.2" fill="#800000"/><rect x="601.3" y="588.5" width="4.25" height="13.2" fill="#ff0000"/><rect x="601.3" y="575.3" width="14.52" height="13.2" fill="#ff8c00"/><rect x="601.3" y="562.1" width="21.18" height="13.2" fill="#f4a460"/><rect x="601.3" y="548.9" width="31.48" height="13.2" fill="#ffff00"/><rect x="601.3" y="535.7" width="42.96" height="13.2" fill="#ffff00"/><rect x="601.3" y="522.5" width="58.1" height="13.2" fill="#90ee90"/><rect x="601.3" y="509.3" width="34.49" height="13.2" fill="#90ee90"/><rect x="601.3" y="496.1" width="17.55" height="13.2" fill="#008000"/><rect x="601.3" y="482.9" width="7.26" height="13.2" fill="#add8e6"/><rect x="601.3" y="469.7" width="7.88" height="13.2" fill="#0000ff"/><rect x="601.3" y="456.5" width="1.83" height="13.2" fill="#4b0082"/></g>
<g font-size="8.3"><text x="604.52" y="637.1">0.25</text><text x="606.32" y="623.9">0.98</text><text x="606.32" y="610.7">0.98</text><text x="608.15" y="597.5">1.72</text><text x="618.42" y="584.3">5.88</text><text x="625.08" y="571.1">8.58</text><text x="635.38" y="557.9">12.75</text><text x="646.86" y="544.7">17.4</text><text x="662" y="531.5">23.53</text><text x="638.39" y="518.3">13.97</text><text x="621.45" y="505.1">7.11</text><text x="611.16" y="491.9">2.94</text><text x="611.78" y="478.7">3.19</text><text x="605.73" y="465.5">0.74</text></g>
<path d="M601.3 430.1V641.3M601.3 641.3h-4.0M601.3 601.7h-4.0M601.3 588.5h-4.0M601.3 575.3h-4.0M601.3 562.1h-4.0M601.3 535.7h-4.0M601.3 509.3h-4.0M601.3 496.1h-4.0M601.3 482.9h-4.0M601.3 469.7h-4.0M601.3 430.1h-4.0" stroke="#262626" stroke-width="0.9" fill="none"/>
<g font-size="7.3" text-anchor="middle">
<text transform="translate(595.3 622.3) rotate(-90)">EXD</text>
<text transform="translate(595.3 595.9) rotate(-90)">ED</text>
<text transform="translate(595.3 582.7) rotate(-90)">SD</text>
<text transform="translate(595.3 569.5) rotate(-90)">MD</text>
<text transform="translate(595.3 549.7) rotate(-90)">AND</text>
<text transform="translate(595.3 523.3) rotate(-90)">ANW</text>
<text transform="translate(595.3 503.5) rotate(-90)">MW</text>
<text transform="translate(595.3 490.3) rotate(-90)">SW</text>
<text transform="translate(595.3 477.1) rotate(-90)">EW</text>
<text transform="translate(595.3 450.7) rotate(-90)">EXW</text>
</g>
</g>
</svg>
</body></html>
